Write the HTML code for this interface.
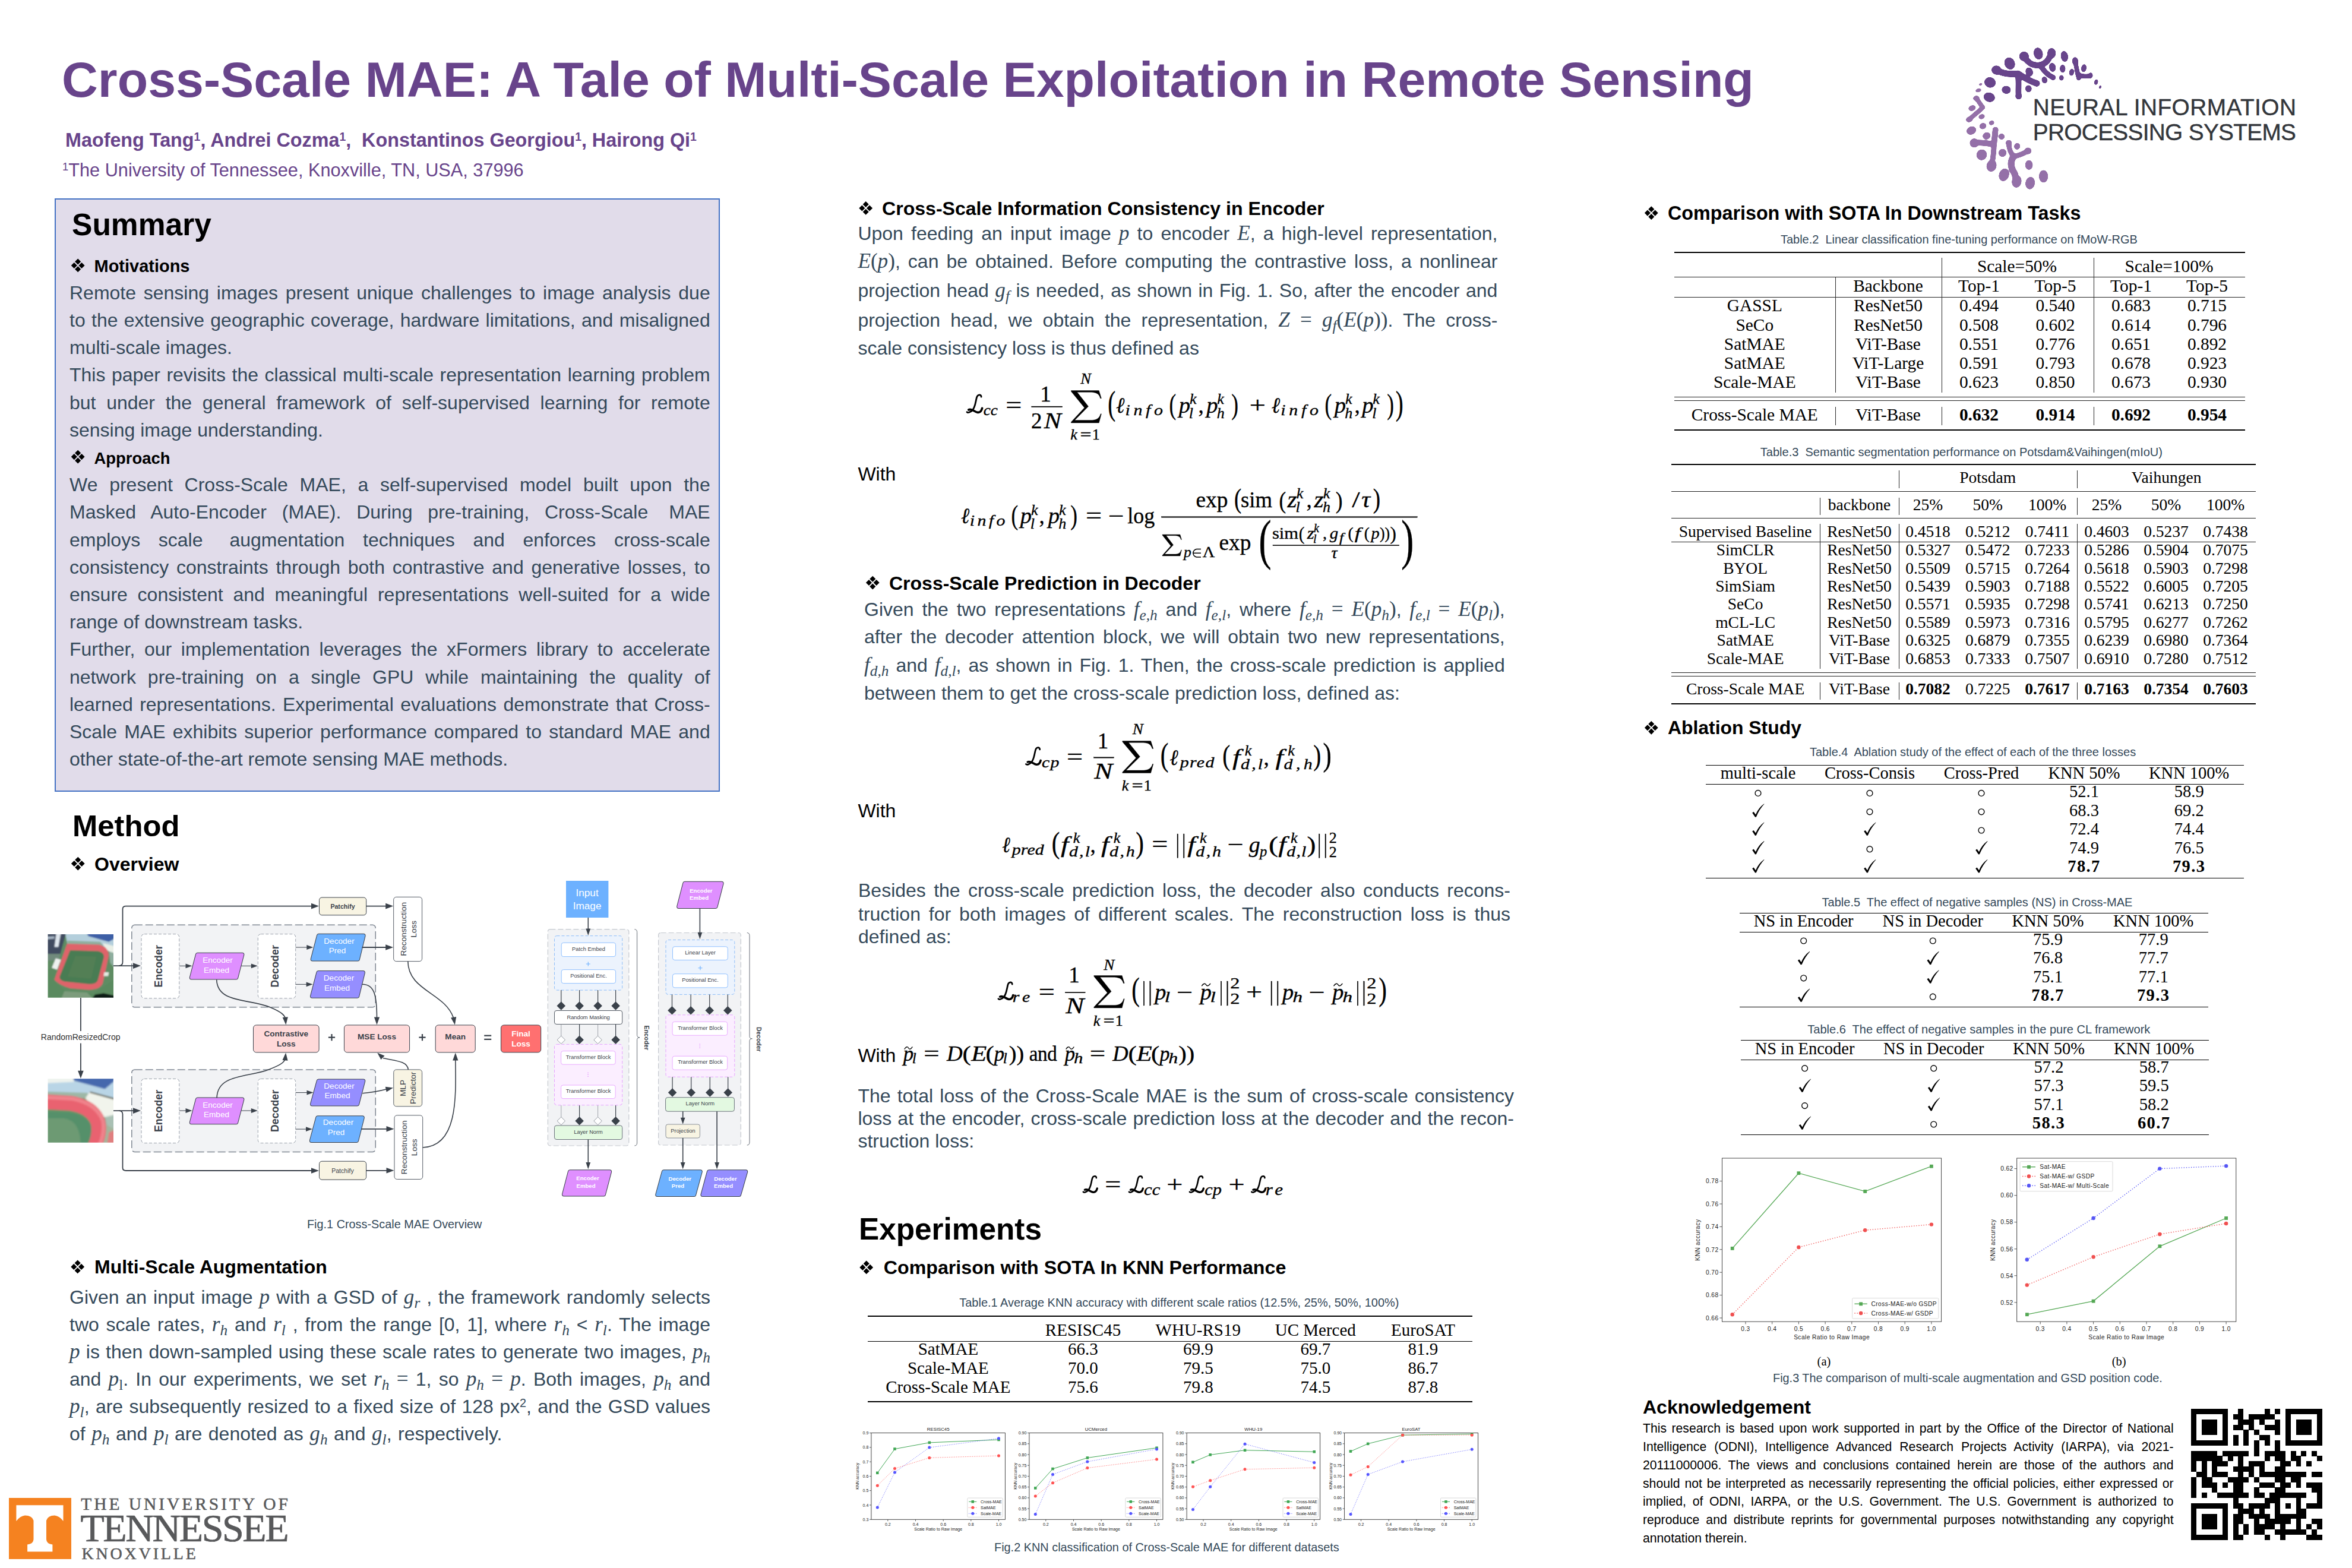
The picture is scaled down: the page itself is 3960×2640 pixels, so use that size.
<!DOCTYPE html><html><head><meta charset="utf-8"><title>Cross-Scale MAE poster</title><style>html,body{margin:0;padding:0;background:#fff}
#pg{position:relative;width:3960px;height:2640px;overflow:hidden;background:#fff;font-family:"Liberation Sans",sans-serif}
.t{position:absolute;white-space:pre;line-height:1}
.s{font-family:"Liberation Sans",sans-serif}.f{font-family:"Liberation Serif",serif}
i.m{font-family:"Liberation Serif",serif;font-style:italic;font-size:1.1em}
.mr{font-family:"Liberation Serif",serif;font-size:1.1em}
svg{position:absolute;overflow:visible}
</style></head><body><div id="pg">
<div style="position:absolute;left:92px;top:334px;width:1116px;height:995px;background:#e1dcea;border:2px solid #4472c4"></div>
<svg style="left:0;top:0" width="1" height="1"><path d="M131.2 435.5L136.2 440.6L131.2 445.6L126.1 440.6ZM137.5 441.9L142.6 446.9L137.5 452.0L132.5 446.9ZM131.2 448.2L136.2 453.3L131.2 458.3L126.1 453.3ZM124.8 441.9L129.9 446.9L124.8 452.0L119.8 446.9Z" fill="#000"/></svg>
<svg style="left:0;top:0" width="1" height="1"><path d="M131.2 757.7L136.2 762.8L131.2 767.8L126.1 762.8ZM137.5 764.1L142.6 769.1L137.5 774.2L132.5 769.1ZM131.2 770.4L136.2 775.5L131.2 780.5L126.1 775.5ZM124.8 764.1L129.9 769.1L124.8 774.2L119.8 769.1Z" fill="#000"/></svg>
<svg style="left:0;top:0" width="1" height="1"><path d="M131.3 1442.7L136.3 1447.8L131.3 1452.8L126.2 1447.8ZM137.6 1449.0L142.7 1454.1L137.6 1459.1L132.6 1454.1ZM131.3 1455.4L136.3 1460.4L131.3 1465.5L126.2 1460.4ZM124.9 1449.0L130.0 1454.1L124.9 1459.1L119.9 1454.1Z" fill="#000"/></svg>
<svg style="left:0;top:0" width="1" height="1"><path d="M130.7 2121.5L135.8 2126.6L130.7 2131.6L125.6 2126.6ZM137.0 2127.8L142.1 2132.9L137.0 2138.0L132.0 2132.9ZM130.7 2134.2L135.8 2139.2L130.7 2144.3L125.6 2139.2ZM124.3 2127.8L129.4 2132.9L124.3 2138.0L119.3 2132.9Z" fill="#000"/></svg>
<svg style="left:0;top:0" width="1" height="1"><path d="M1457.7 339.0L1462.8 344.1L1457.7 349.1L1452.7 344.1ZM1464.0 345.4L1469.1 350.4L1464.0 355.5L1459.0 350.4ZM1457.7 351.7L1462.8 356.8L1457.7 361.8L1452.7 356.8ZM1451.4 345.4L1456.4 350.4L1451.4 355.5L1446.3 350.4Z" fill="#000"/></svg>
<svg style="left:0;top:0" width="1" height="1"><path d="M1469.3 969.7L1474.3 974.8L1469.3 979.8L1464.2 974.8ZM1475.6 976.1L1480.7 981.1L1475.6 986.1L1470.6 981.1ZM1469.3 982.4L1474.3 987.5L1469.3 992.5L1464.2 987.5ZM1463.0 976.1L1468.0 981.1L1463.0 986.1L1457.9 981.1Z" fill="#000"/></svg>
<svg style="left:0;top:0" width="1" height="1"><path d="M1458.7 2122.5L1463.8 2127.6L1458.7 2132.6L1453.7 2127.6ZM1465.0 2128.8L1470.1 2133.9L1465.0 2139.0L1460.0 2133.9ZM1458.7 2135.2L1463.8 2140.2L1458.7 2145.3L1453.7 2140.2ZM1452.4 2128.8L1457.4 2133.9L1452.4 2139.0L1447.3 2133.9Z" fill="#000"/></svg>
<div style="position:absolute;left:1461.0px;top:2215.00px;width:1018.0px;height:2.2px;background:#000"></div>
<div style="position:absolute;left:1461.0px;top:2258.00px;width:1018.0px;height:1.3px;background:#000"></div>
<div style="position:absolute;left:1461.0px;top:2359.00px;width:1018.0px;height:2.2px;background:#000"></div>
<svg style="left:0;top:0" width="1" height="1"><path d="M2780.3 347.2L2785.3 352.2L2780.3 357.3L2775.2 352.2ZM2786.6 353.6L2791.7 358.6L2786.6 363.7L2781.6 358.6ZM2780.3 359.9L2785.3 365.0L2780.3 370.0L2775.2 365.0ZM2773.9 353.6L2779.0 358.6L2773.9 363.7L2768.9 358.6Z" fill="#000"/></svg>
<div style="position:absolute;left:2818.6px;top:424.00px;width:961.9px;height:2.2px;background:#000"></div>
<div style="position:absolute;left:2818.6px;top:466.00px;width:961.9px;height:1.35px;background:#222"></div>
<div style="position:absolute;left:2818.6px;top:500.00px;width:961.9px;height:1.35px;background:#222"></div>
<div style="position:absolute;left:2818.6px;top:668.00px;width:961.9px;height:1.35px;background:#222"></div>
<div style="position:absolute;left:2818.6px;top:674.00px;width:961.9px;height:1.35px;background:#222"></div>
<div style="position:absolute;left:2818.6px;top:723.00px;width:961.9px;height:2.2px;background:#000"></div>
<div style="position:absolute;left:3269.00px;top:434.0px;width:1.15px;height:33.0px;background:#2a2a2a"></div>
<div style="position:absolute;left:3525.00px;top:434.0px;width:1.15px;height:33.0px;background:#2a2a2a"></div>
<div style="position:absolute;left:3090.00px;top:467.0px;width:1.15px;height:194.0px;background:#2a2a2a"></div>
<div style="position:absolute;left:3090.00px;top:685.0px;width:1.15px;height:31.0px;background:#2a2a2a"></div>
<div style="position:absolute;left:3269.00px;top:467.0px;width:1.15px;height:194.0px;background:#2a2a2a"></div>
<div style="position:absolute;left:3269.00px;top:685.0px;width:1.15px;height:31.0px;background:#2a2a2a"></div>
<div style="position:absolute;left:3525.00px;top:467.0px;width:1.15px;height:194.0px;background:#2a2a2a"></div>
<div style="position:absolute;left:3525.00px;top:685.0px;width:1.15px;height:31.0px;background:#2a2a2a"></div>
<div style="position:absolute;left:2813.8px;top:781.00px;width:984.2px;height:2.2px;background:#000"></div>
<div style="position:absolute;left:2813.8px;top:827.00px;width:984.2px;height:1.35px;background:#222"></div>
<div style="position:absolute;left:2813.8px;top:872.00px;width:984.2px;height:1.35px;background:#222"></div>
<div style="position:absolute;left:2813.8px;top:912.00px;width:984.2px;height:1.35px;background:#222"></div>
<div style="position:absolute;left:2813.8px;top:1132.00px;width:984.2px;height:1.35px;background:#222"></div>
<div style="position:absolute;left:2813.8px;top:1138.00px;width:984.2px;height:1.35px;background:#222"></div>
<div style="position:absolute;left:2813.8px;top:1184.00px;width:984.2px;height:2.2px;background:#000"></div>
<div style="position:absolute;left:3197.00px;top:792.0px;width:1.15px;height:30.0px;background:#2a2a2a"></div>
<div style="position:absolute;left:3497.00px;top:792.0px;width:1.15px;height:30.0px;background:#2a2a2a"></div>
<div style="position:absolute;left:3064.00px;top:838.0px;width:1.15px;height:29.0px;background:#2a2a2a"></div>
<div style="position:absolute;left:3064.00px;top:882.0px;width:1.15px;height:244.0px;background:#2a2a2a"></div>
<div style="position:absolute;left:3064.00px;top:1149.0px;width:1.15px;height:29.0px;background:#2a2a2a"></div>
<div style="position:absolute;left:3197.00px;top:838.0px;width:1.15px;height:29.0px;background:#2a2a2a"></div>
<div style="position:absolute;left:3197.00px;top:882.0px;width:1.15px;height:244.0px;background:#2a2a2a"></div>
<div style="position:absolute;left:3197.00px;top:1149.0px;width:1.15px;height:29.0px;background:#2a2a2a"></div>
<div style="position:absolute;left:3497.00px;top:838.0px;width:1.15px;height:29.0px;background:#2a2a2a"></div>
<div style="position:absolute;left:3497.00px;top:882.0px;width:1.15px;height:244.0px;background:#2a2a2a"></div>
<div style="position:absolute;left:3497.00px;top:1149.0px;width:1.15px;height:29.0px;background:#2a2a2a"></div>
<svg style="left:0;top:0" width="1" height="1"><path d="M2780.3 1213.9L2785.3 1219.0L2780.3 1224.0L2775.2 1219.0ZM2786.6 1220.2L2791.7 1225.3L2786.6 1230.3L2781.6 1225.3ZM2780.3 1226.6L2785.3 1231.6L2780.3 1236.7L2775.2 1231.6ZM2773.9 1220.2L2779.0 1225.3L2773.9 1230.3L2768.9 1225.3Z" fill="#000"/></svg>
<div style="position:absolute;left:2872.4px;top:1288.00px;width:905.6px;height:1.25px;background:#000"></div>
<div style="position:absolute;left:2872.4px;top:1320.00px;width:905.6px;height:1.25px;background:#000"></div>
<div style="position:absolute;left:2872.4px;top:1478.00px;width:905.6px;height:1.25px;background:#000"></div>
<svg style="left:0;top:0" width="1" height="1"><circle cx="2960.0" cy="1335.4" r="4.9" fill="none" stroke="#000" stroke-width="1.35"/></svg>
<svg style="left:0;top:0" width="1" height="1"><circle cx="3148.0" cy="1335.4" r="4.9" fill="none" stroke="#000" stroke-width="1.35"/></svg>
<svg style="left:0;top:0" width="1" height="1"><circle cx="3336.0" cy="1335.4" r="4.9" fill="none" stroke="#000" stroke-width="1.35"/></svg>
<svg style="left:0;top:0" width="1" height="1"><path d="M2950.2 1368.4L2952.6 1366.7L2956.0 1371.4Q2960.5 1360.3 2970.1 1353.2L2970.4 1353.8Q2962.0 1362.8 2956.9 1375.4L2955.1 1375.7Z" fill="#000"/></svg>
<svg style="left:0;top:0" width="1" height="1"><circle cx="3148.0" cy="1366.8" r="4.9" fill="none" stroke="#000" stroke-width="1.35"/></svg>
<svg style="left:0;top:0" width="1" height="1"><circle cx="3336.0" cy="1366.8" r="4.9" fill="none" stroke="#000" stroke-width="1.35"/></svg>
<svg style="left:0;top:0" width="1" height="1"><path d="M2950.2 1399.6L2952.6 1397.9L2956.0 1402.6Q2960.5 1391.5 2970.1 1384.4L2970.4 1385.0Q2962.0 1394.0 2956.9 1406.6L2955.1 1406.9Z" fill="#000"/></svg>
<svg style="left:0;top:0" width="1" height="1"><path d="M3138.2 1399.6L3140.6 1397.9L3144.0 1402.6Q3148.5 1391.5 3158.1 1384.4L3158.4 1385.0Q3150.0 1394.0 3144.9 1406.6L3143.1 1406.9Z" fill="#000"/></svg>
<svg style="left:0;top:0" width="1" height="1"><circle cx="3336.0" cy="1398.0" r="4.9" fill="none" stroke="#000" stroke-width="1.35"/></svg>
<svg style="left:0;top:0" width="1" height="1"><path d="M2950.2 1431.3L2952.6 1429.6L2956.0 1434.3Q2960.5 1423.2 2970.1 1416.1L2970.4 1416.7Q2962.0 1425.7 2956.9 1438.3L2955.1 1438.6Z" fill="#000"/></svg>
<svg style="left:0;top:0" width="1" height="1"><circle cx="3148.0" cy="1429.7" r="4.9" fill="none" stroke="#000" stroke-width="1.35"/></svg>
<svg style="left:0;top:0" width="1" height="1"><path d="M3326.2 1431.3L3328.6 1429.6L3332.0 1434.3Q3336.5 1423.2 3346.1 1416.1L3346.4 1416.7Q3338.0 1425.7 3332.9 1438.3L3331.1 1438.6Z" fill="#000"/></svg>
<svg style="left:0;top:0" width="1" height="1"><path d="M2950.2 1462.2L2952.6 1460.5L2956.0 1465.2Q2960.5 1454.1 2970.1 1447.0L2970.4 1447.6Q2962.0 1456.6 2956.9 1469.2L2955.1 1469.5Z" fill="#000"/></svg>
<svg style="left:0;top:0" width="1" height="1"><path d="M3138.2 1462.2L3140.6 1460.5L3144.0 1465.2Q3148.5 1454.1 3158.1 1447.0L3158.4 1447.6Q3150.0 1456.6 3144.9 1469.2L3143.1 1469.5Z" fill="#000"/></svg>
<svg style="left:0;top:0" width="1" height="1"><path d="M3326.2 1462.2L3328.6 1460.5L3332.0 1465.2Q3336.5 1454.1 3346.1 1447.0L3346.4 1447.6Q3338.0 1456.6 3332.9 1469.2L3331.1 1469.5Z" fill="#000"/></svg>
<div style="position:absolute;left:2929.0px;top:1537.00px;width:788.6px;height:1.25px;background:#000"></div>
<div style="position:absolute;left:2929.0px;top:1569.00px;width:788.6px;height:1.25px;background:#000"></div>
<div style="position:absolute;left:2929.0px;top:1695.00px;width:788.6px;height:1.25px;background:#000"></div>
<svg style="left:0;top:0" width="1" height="1"><circle cx="3036.7" cy="1584.0" r="4.9" fill="none" stroke="#000" stroke-width="1.35"/></svg>
<svg style="left:0;top:0" width="1" height="1"><circle cx="3254.3" cy="1584.0" r="4.9" fill="none" stroke="#000" stroke-width="1.35"/></svg>
<svg style="left:0;top:0" width="1" height="1"><path d="M3026.9 1617.0L3029.3 1615.3L3032.7 1620.0Q3037.2 1608.9 3046.8 1601.8L3047.1 1602.4Q3038.7 1611.4 3033.6 1624.0L3031.8 1624.3Z" fill="#000"/></svg>
<svg style="left:0;top:0" width="1" height="1"><path d="M3244.5 1617.0L3246.9 1615.3L3250.3 1620.0Q3254.8 1608.9 3264.4 1601.8L3264.7 1602.4Q3256.3 1611.4 3251.2 1624.0L3249.4 1624.3Z" fill="#000"/></svg>
<svg style="left:0;top:0" width="1" height="1"><circle cx="3036.7" cy="1646.8" r="4.9" fill="none" stroke="#000" stroke-width="1.35"/></svg>
<svg style="left:0;top:0" width="1" height="1"><path d="M3244.5 1648.4L3246.9 1646.7L3250.3 1651.4Q3254.8 1640.3 3264.4 1633.2L3264.7 1633.8Q3256.3 1642.8 3251.2 1655.4L3249.4 1655.7Z" fill="#000"/></svg>
<svg style="left:0;top:0" width="1" height="1"><path d="M3026.9 1679.8L3029.3 1678.1L3032.7 1682.8Q3037.2 1671.7 3046.8 1664.6L3047.1 1665.2Q3038.7 1674.2 3033.6 1686.8L3031.8 1687.1Z" fill="#000"/></svg>
<svg style="left:0;top:0" width="1" height="1"><circle cx="3254.3" cy="1678.2" r="4.9" fill="none" stroke="#000" stroke-width="1.35"/></svg>
<div style="position:absolute;left:2930.5px;top:1751.00px;width:788.1px;height:1.25px;background:#000"></div>
<div style="position:absolute;left:2930.5px;top:1784.00px;width:788.1px;height:1.25px;background:#000"></div>
<div style="position:absolute;left:2930.5px;top:1910.00px;width:788.1px;height:1.25px;background:#000"></div>
<svg style="left:0;top:0" width="1" height="1"><circle cx="3038.6" cy="1798.7" r="4.9" fill="none" stroke="#000" stroke-width="1.35"/></svg>
<svg style="left:0;top:0" width="1" height="1"><circle cx="3255.7" cy="1798.7" r="4.9" fill="none" stroke="#000" stroke-width="1.35"/></svg>
<svg style="left:0;top:0" width="1" height="1"><path d="M3028.8 1831.6L3031.2 1829.9L3034.6 1834.6Q3039.1 1823.5 3048.7 1816.4L3049.0 1817.0Q3040.6 1826.0 3035.5 1838.6L3033.7 1838.9Z" fill="#000"/></svg>
<svg style="left:0;top:0" width="1" height="1"><path d="M3245.9 1831.6L3248.3 1829.9L3251.7 1834.6Q3256.2 1823.5 3265.8 1816.4L3266.1 1817.0Q3257.7 1826.0 3252.6 1838.6L3250.8 1838.9Z" fill="#000"/></svg>
<svg style="left:0;top:0" width="1" height="1"><circle cx="3038.6" cy="1861.6" r="4.9" fill="none" stroke="#000" stroke-width="1.35"/></svg>
<svg style="left:0;top:0" width="1" height="1"><path d="M3245.9 1863.2L3248.3 1861.5L3251.7 1866.2Q3256.2 1855.1 3265.8 1848.0L3266.1 1848.6Q3257.7 1857.6 3252.6 1870.2L3250.8 1870.5Z" fill="#000"/></svg>
<svg style="left:0;top:0" width="1" height="1"><path d="M3028.8 1894.6L3031.2 1892.9L3034.6 1897.6Q3039.1 1886.5 3048.7 1879.4L3049.0 1880.0Q3040.6 1889.0 3035.5 1901.6L3033.7 1901.9Z" fill="#000"/></svg>
<svg style="left:0;top:0" width="1" height="1"><circle cx="3255.7" cy="1893.0" r="4.9" fill="none" stroke="#000" stroke-width="1.35"/></svg>
<svg style="left:0;top:0" width="1" height="1" font-family="'Liberation Serif',serif" fill="#000" stroke="#000" stroke-width="0.35"><path d="M1652.1 668.2C1652.3 663.8 1646.2 663.2 1644.4 669.4C1642.2 677.6 1642.0 686.3 1636.8 691.1C1633.5 694.1 1629.4 695.7 1628.0 693.7" fill="none" stroke="#000" stroke-width="2.83" stroke-linecap="round"/><path d="M1630.8 690.0C1636.3 687.2 1640.6 693.7 1646.1 694.3C1650.1 694.8 1652.5 691.7 1653.6 687.4" fill="none" stroke="#000" stroke-width="3.70" stroke-linecap="round"/><text transform="translate(1655.66 699.0) scale(1.045 1)" font-size="26" font-style="italic" letter-spacing="0.00">cc</text><text transform="translate(1693.21 694.5) scale(1.300 1)" font-size="37">=</text><text x="1751.2" y="676.3" font-size="37">1</text><rect x="1736.7" y="684.05" width="52.1" height="1.5"/><text x="1735.9" y="720.5" font-size="37">2</text><text transform="translate(1757.82 720.5) scale(1.181 1)" font-size="37" font-style="italic">N</text><path d="M1803.4 657.6L1850.3 657.6L1854.4 670.7L1852.6 670.7C1850.3 662.5 1845.7 660.3 1834.0 660.3L1813.6 660.3L1832.5 684.3L1809.5 707.6L1835.0 707.6C1846.8 707.6 1850.8 704.4 1853.1 696.8L1854.4 696.8L1850.3 712.0L1803.4 712.0L1803.4 710.6L1825.8 686.4L1803.4 659.0Z"/><text transform="translate(1819.19 645.7) scale(1.014 1)" font-size="26" font-style="italic">N</text><text x="1802.3" y="740.0" font-size="26" font-style="italic">k</text><text transform="translate(1818.45 740.0) scale(1.300 1)" font-size="26">=</text><text x="1838.7" y="740.0" font-size="26">1</text><text transform="translate(1865.29 698.0) scale(0.692 1)" font-size="56.2">(</text><text transform="translate(1878.89 695.0) scale(0.933 1)" font-size="37" font-style="italic">ℓ</text><text transform="translate(1894.44 699.0) scale(1.150 1)" font-size="26" font-style="italic" letter-spacing="4.94">info</text><text transform="translate(1968.46 696.7) scale(0.722 1)" font-size="48.5">(</text><text transform="translate(1984.86 695.0) scale(1.044 1)" font-size="37" font-style="italic">p</text><text x="2002.9" y="680.4" font-size="26" font-style="italic">k</text><text x="2001.8" y="703.5" font-size="26" font-style="italic">l</text><text x="2017.6" y="695.0" font-size="37">,</text><text transform="translate(2031.26 695.0) scale(1.044 1)" font-size="37" font-style="italic">p</text><text x="2049.3" y="680.4" font-size="26" font-style="italic">k</text><text x="2048.7" y="703.5" font-size="26" font-style="italic">h</text><text transform="translate(2073.37 696.7) scale(0.722 1)" font-size="48.5">)</text><text transform="translate(2103.81 694.5) scale(1.300 1)" font-size="37">+</text><text transform="translate(2140.79 695.0) scale(0.933 1)" font-size="37" font-style="italic">ℓ</text><text transform="translate(2156.34 699.0) scale(1.150 1)" font-size="26" font-style="italic" letter-spacing="4.94">info</text><text transform="translate(2230.46 696.7) scale(0.722 1)" font-size="48.5">(</text><text transform="translate(2246.86 695.0) scale(1.044 1)" font-size="37" font-style="italic">p</text><text x="2264.9" y="680.4" font-size="26" font-style="italic">k</text><text x="2264.3" y="703.5" font-size="26" font-style="italic">h</text><text x="2280.6" y="695.0" font-size="37">,</text><text transform="translate(2293.26 695.0) scale(1.044 1)" font-size="37" font-style="italic">p</text><text x="2311.3" y="680.4" font-size="26" font-style="italic">k</text><text x="2310.2" y="703.5" font-size="26" font-style="italic">l</text><text transform="translate(2335.27 696.7) scale(0.722 1)" font-size="48.5">)</text><text transform="translate(2349.75 698.0) scale(0.692 1)" font-size="56.2">)</text></svg>
<svg style="left:0;top:0" width="1" height="1" font-family="'Liberation Serif',serif" fill="#000" stroke="#000" stroke-width="0.35"><text transform="translate(1618.00 881.4) scale(0.919 1)" font-size="37" font-style="italic">ℓ</text><text transform="translate(1632.84 885.4) scale(1.150 1)" font-size="26" font-style="italic" letter-spacing="3.78">info</text><text transform="translate(1702.46 882.9) scale(0.739 1)" font-size="47.4">(</text><text transform="translate(1717.86 881.4) scale(1.044 1)" font-size="37" font-style="italic">p</text><text x="1735.9" y="866.8" font-size="26" font-style="italic">k</text><text x="1734.8" y="889.9" font-size="26" font-style="italic">l</text><text x="1749.6" y="881.4" font-size="37">,</text><text transform="translate(1764.86 881.4) scale(1.044 1)" font-size="37" font-style="italic">p</text><text x="1782.9" y="866.8" font-size="26" font-style="italic">k</text><text x="1782.3" y="889.9" font-size="26" font-style="italic">h</text><text transform="translate(1802.27 882.9) scale(0.739 1)" font-size="47.4">)</text><text transform="translate(1827.91 880.9) scale(1.300 1)" font-size="37">=</text><text transform="translate(1865.65 880.9) scale(1.278 1)" font-size="37">−</text><text transform="translate(1898.28 881.4) scale(0.971 1)" font-size="37" letter-spacing="0.00">log</text><rect x="1955.4" y="869.75" width="431.0" height="1.5"/><text transform="translate(2013.54 853.5) scale(1.009 1)" font-size="37" letter-spacing="0.00">exp</text><text transform="translate(2077.99 855.1) scale(0.790 1)" font-size="46.3">(</text><text transform="translate(2088.99 853.5) scale(0.993 1)" font-size="37" letter-spacing="0.00">sim</text><text transform="translate(2153.46 855.5) scale(0.883 1)" font-size="39.7">(</text><text transform="translate(2167.46 853.5) scale(1.117 1)" font-size="37" font-style="italic">z</text><text x="2182.8" y="838.9" font-size="26" font-style="italic">k</text><text x="2181.6" y="862.0" font-size="26" font-style="italic">l</text><text x="2199.6" y="853.5" font-size="37">,</text><text transform="translate(2212.46 853.5) scale(1.117 1)" font-size="37" font-style="italic">z</text><text x="2227.8" y="838.9" font-size="26" font-style="italic">k</text><text x="2227.1" y="862.0" font-size="26" font-style="italic">h</text><text transform="translate(2248.87 855.5) scale(0.883 1)" font-size="39.7">)</text><text transform="translate(2276.32 853.5) scale(1.300 1)" font-size="37">/</text><text transform="translate(2292.25 853.5) scale(1.120 1)" font-size="37" font-style="italic">τ</text><text transform="translate(2311.81 855.1) scale(0.799 1)" font-size="46.3">)</text><path d="M1957.0 900.0L1986.9 900.0L1989.5 908.6L1988.4 908.6C1986.9 903.2 1984.0 901.8 1976.5 901.8L1963.5 901.8L1975.5 917.6L1960.9 933.1L1977.2 933.1C1984.6 933.1 1987.2 931.0 1988.7 925.9L1989.5 925.9L1986.9 936.0L1957.0 936.0L1957.0 935.1L1971.3 919.1L1957.0 900.9Z"/><text transform="translate(1993.00 937.6) scale(0.983 1)" font-size="26" font-style="italic">p</text><path d="M2022.0 924.5L2014.8 924.5A6.8 6.8 0 0 0 2014.8 938.0L2022.0 938.0M2008.0 931.2L2022.0 931.2" fill="none" stroke="#000" stroke-width="1.4"/><text transform="translate(2024.72 937.6) scale(1.091 1)" font-size="26">Λ</text><text transform="translate(2052.54 925.6) scale(1.009 1)" font-size="37" letter-spacing="0.00">exp</text><text transform="translate(2119.18 939.7) scale(0.685 1)" font-size="93.8">(</text><text transform="translate(2141.94 907.0) scale(1.093 1)" font-size="28" letter-spacing="0.00">sim</text><text transform="translate(2186.72 909.2) scale(0.913 1)" font-size="32.0">(</text><text transform="translate(2200.65 907.0) scale(1.098 1)" font-size="28" font-style="italic">z</text><text x="2212.0" y="896.0" font-size="20" font-style="italic">k</text><text x="2211.1" y="914.0" font-size="20" font-style="italic">l</text><text x="2226.9" y="907.0" font-size="28">,</text><text transform="translate(2238.79 907.0) scale(1.033 1)" font-size="28" font-style="italic">g</text><text transform="translate(2254.99 912.0) scale(1.300 1)" font-size="20" font-style="italic">f</text><text transform="translate(2269.49 907.0) scale(0.987 1)" font-size="28">(</text><text transform="translate(2280.74 907.0) scale(1.300 1)" font-size="28" font-style="italic">f</text><text transform="translate(2296.80 907.0) scale(0.973 1)" font-size="28">(</text><text transform="translate(2308.46 907.0) scale(1.014 1)" font-size="28" font-style="italic">p</text><text transform="translate(2322.97 907.0) scale(0.920 1)" font-size="28" letter-spacing="0.00">))</text><text transform="translate(2340.50 909.2) scale(0.974 1)" font-size="32.0">)</text><rect x="2143.0" y="917.55" width="212.8" height="1.3"/><text x="2241.4" y="940.0" font-size="28" font-style="italic">τ</text><text transform="translate(2358.93 939.7) scale(0.685 1)" font-size="93.8">)</text></svg>
<svg style="left:0;top:0" width="1" height="1" font-family="'Liberation Serif',serif" fill="#000" stroke="#000" stroke-width="0.35"><path d="M1750.7 1261.9C1750.9 1257.7 1745.0 1257.0 1743.4 1263.0C1741.2 1270.9 1741.0 1279.4 1736.0 1284.0C1732.8 1287.0 1728.8 1288.4 1727.4 1286.5" fill="none" stroke="#000" stroke-width="2.74" stroke-linecap="round"/><path d="M1730.2 1283.0C1735.5 1280.2 1739.7 1286.5 1744.9 1287.2C1748.8 1287.6 1751.2 1284.6 1752.2 1280.4" fill="none" stroke="#000" stroke-width="3.58" stroke-linecap="round"/><text transform="translate(1754.08 1291.6) scale(1.150 1)" font-size="26" font-style="italic" letter-spacing="0.96">cp</text><text transform="translate(1796.11 1287.3) scale(1.300 1)" font-size="37">=</text><text x="1847.7" y="1259.5" font-size="37">1</text><rect x="1841.5" y="1274.75" width="34.0" height="1.5"/><text transform="translate(1842.34 1310.5) scale(1.256 1)" font-size="37" font-style="italic">N</text><path d="M1889.8 1247.6L1937.6 1247.6L1941.8 1260.5L1940.0 1260.5C1937.6 1252.4 1933.0 1250.3 1921.0 1250.3L1900.2 1250.3L1919.4 1274.0L1896.0 1297.1L1922.0 1297.1C1934.0 1297.1 1938.2 1293.9 1940.5 1286.3L1941.8 1286.3L1937.6 1301.4L1889.8 1301.4L1889.8 1300.1L1912.7 1276.1L1889.8 1248.9Z"/><text transform="translate(1906.70 1235.7) scale(1.041 1)" font-size="26" font-style="italic">N</text><text x="1888.8" y="1331.0" font-size="26" font-style="italic">k</text><text transform="translate(1905.45 1331.0) scale(1.300 1)" font-size="26">=</text><text x="1925.7" y="1331.0" font-size="26">1</text><text transform="translate(1953.70 1289.3) scale(0.742 1)" font-size="55.1">(</text><text transform="translate(1969.29 1287.8) scale(0.933 1)" font-size="37" font-style="italic">ℓ</text><text transform="translate(1986.75 1291.6) scale(1.150 1)" font-size="26" font-style="italic" letter-spacing="1.15">pred</text><text transform="translate(2058.29 1288.4) scale(0.785 1)" font-size="49.6">(</text><text transform="translate(2075.03 1287.8) scale(1.300 1)" font-size="37" font-style="italic">f</text><text x="2095.8" y="1272.3" font-size="26" font-style="italic">k</text><text transform="translate(2089.09 1295.3) scale(1.150 1)" font-size="26" font-style="italic" letter-spacing="2.75">d,l</text><text x="2127.6" y="1287.8" font-size="37">,</text><text transform="translate(2147.53 1287.8) scale(1.300 1)" font-size="37" font-style="italic">f</text><text x="2168.3" y="1272.3" font-size="26" font-style="italic">k</text><text transform="translate(2161.59 1295.3) scale(1.150 1)" font-size="26" font-style="italic" letter-spacing="4.68">d,h</text><text transform="translate(2211.25 1288.4) scale(0.785 1)" font-size="49.6">)</text><text transform="translate(2227.62 1289.3) scale(0.777 1)" font-size="55.1">)</text></svg>
<svg style="left:0;top:0" width="1" height="1" font-family="'Liberation Serif',serif" fill="#000" stroke="#000" stroke-width="0.35"><text transform="translate(1687.13 1434.7) scale(0.878 1)" font-size="37" font-style="italic">ℓ</text><text transform="translate(1703.75 1438.5) scale(1.150 1)" font-size="26" font-style="italic" letter-spacing="0.11">pred</text><text transform="translate(1770.70 1436.4) scale(0.824 1)" font-size="49.6">(</text><text transform="translate(1785.93 1434.7) scale(1.300 1)" font-size="37" font-style="italic">f</text><text x="1806.7" y="1419.2" font-size="26" font-style="italic">k</text><text transform="translate(1799.99 1442.2) scale(1.150 1)" font-size="26" font-style="italic" letter-spacing="1.88">d,l</text><text x="1835.6" y="1434.7" font-size="37">,</text><text transform="translate(1853.93 1434.7) scale(1.300 1)" font-size="37" font-style="italic">f</text><text x="1874.7" y="1419.2" font-size="26" font-style="italic">k</text><text transform="translate(1867.99 1442.2) scale(1.150 1)" font-size="26" font-style="italic" letter-spacing="2.29">d,h</text><text transform="translate(1912.18 1436.4) scale(0.824 1)" font-size="49.6">)</text><text transform="translate(1939.21 1434.2) scale(1.300 1)" font-size="37">=</text><rect x="1982.00" y="1404.0" width="1.5" height="40.5"/><rect x="1992.50" y="1404.0" width="1.5" height="40.5"/><text transform="translate(1999.23 1434.7) scale(1.300 1)" font-size="37" font-style="italic">f</text><text x="2020.0" y="1419.2" font-size="26" font-style="italic">k</text><text transform="translate(2013.29 1442.2) scale(1.150 1)" font-size="26" font-style="italic" letter-spacing="2.29">d,h</text><text transform="translate(2066.51 1434.2) scale(1.300 1)" font-size="37">−</text><text transform="translate(2102.68 1434.7) scale(1.023 1)" font-size="37" font-style="italic">g</text><text transform="translate(2120.94 1442.2) scale(0.946 1)" font-size="26" font-style="italic">p</text><text transform="translate(2135.96 1434.7) scale(1.300 1)" font-size="37">(</text><text transform="translate(2152.23 1434.7) scale(1.300 1)" font-size="37" font-style="italic">f</text><text x="2173.0" y="1419.2" font-size="26" font-style="italic">k</text><text transform="translate(2166.29 1442.2) scale(1.150 1)" font-size="26" font-style="italic" letter-spacing="1.01">d,l</text><text transform="translate(2200.56 1434.7) scale(1.210 1)" font-size="37">)</text><rect x="2220.50" y="1404.0" width="1.5" height="40.5"/><rect x="2231.00" y="1404.0" width="1.5" height="40.5"/><text x="2237.7" y="1418.7" font-size="26">2</text><text x="2237.7" y="1443.2" font-size="26">2</text></svg>
<svg style="left:0;top:0" width="1" height="1" font-family="'Liberation Serif',serif" fill="#000" stroke="#000" stroke-width="0.35"><path d="M1704.2 1657.1C1704.4 1652.9 1698.5 1652.2 1696.9 1658.2C1694.8 1666.1 1694.5 1674.6 1689.5 1679.2C1686.3 1682.2 1682.3 1683.6 1680.9 1681.7" fill="none" stroke="#000" stroke-width="2.74" stroke-linecap="round"/><path d="M1683.7 1678.2C1689.0 1675.4 1693.2 1681.7 1698.4 1682.4C1702.3 1682.8 1704.7 1679.8 1705.7 1675.6" fill="none" stroke="#000" stroke-width="3.58" stroke-linecap="round"/><text transform="translate(1704.79 1686.5) scale(1.150 1)" font-size="26" font-style="italic" letter-spacing="4.85">re</text><text transform="translate(1748.66 1682.5) scale(1.300 1)" font-size="37">=</text><text x="1799.2" y="1654.4" font-size="37">1</text><rect x="1793.3" y="1670.25" width="34.0" height="1.5"/><text transform="translate(1794.34 1706.3) scale(1.256 1)" font-size="37" font-style="italic">N</text><path d="M1841.8 1642.5L1889.1 1642.5L1893.2 1655.6L1891.4 1655.6C1889.1 1647.4 1884.5 1645.2 1872.6 1645.2L1852.1 1645.2L1871.1 1669.2L1848.0 1692.6L1873.7 1692.6C1885.5 1692.6 1889.6 1689.4 1891.9 1681.7L1893.2 1681.7L1889.1 1697.0L1841.8 1697.0L1841.8 1695.6L1864.4 1671.4L1841.8 1643.9Z"/><text transform="translate(1858.20 1633.0) scale(1.041 1)" font-size="26" font-style="italic">N</text><text x="1840.8" y="1726.7" font-size="26" font-style="italic">k</text><text transform="translate(1857.45 1726.7) scale(1.300 1)" font-size="26">=</text><text x="1877.7" y="1726.7" font-size="26">1</text><text transform="translate(1905.20 1684.3) scale(0.742 1)" font-size="55.1">(</text><rect x="1925.30" y="1652.0" width="1.5" height="41.0"/><rect x="1935.80" y="1652.0" width="1.5" height="41.0"/><text transform="translate(1944.25 1683.0) scale(1.038 1)" font-size="37" font-style="italic">p</text><text transform="translate(1960.78 1687.0) scale(1.300 1)" font-size="26" font-style="italic">l</text><text transform="translate(1981.11 1682.5) scale(1.300 1)" font-size="37">−</text><text transform="translate(2020.85 1683.0) scale(1.038 1)" font-size="37" font-style="italic">p</text><path d="M2023.6 1659.6C2026.4 1655.4 2029.2 1655.4 2030.6 1658.0C2032.0 1660.6 2034.8 1660.6 2037.6 1656.4" fill="none" stroke="#000" stroke-width="1.5" stroke-linecap="round"/><text transform="translate(2037.38 1687.0) scale(1.300 1)" font-size="26" font-style="italic">l</text><rect x="2055.30" y="1652.0" width="1.5" height="41.0"/><rect x="2065.80" y="1652.0" width="1.5" height="41.0"/><text transform="translate(2071.37 1664.0) scale(1.247 1)" font-size="26">2</text><text transform="translate(2071.37 1690.0) scale(1.247 1)" font-size="26">2</text><text transform="translate(2097.96 1682.5) scale(1.300 1)" font-size="37">+</text><rect x="2140.00" y="1652.0" width="1.5" height="41.0"/><rect x="2150.50" y="1652.0" width="1.5" height="41.0"/><text transform="translate(2158.95 1683.0) scale(1.038 1)" font-size="37" font-style="italic">p</text><text transform="translate(2176.14 1687.0) scale(1.300 1)" font-size="26" font-style="italic">h</text><text transform="translate(2203.41 1682.5) scale(1.300 1)" font-size="37">−</text><text transform="translate(2243.15 1683.0) scale(1.038 1)" font-size="37" font-style="italic">p</text><path d="M2245.9 1659.6C2248.7 1655.4 2251.5 1655.4 2252.9 1658.0C2254.3 1660.6 2257.1 1660.6 2259.9 1656.4" fill="none" stroke="#000" stroke-width="1.5" stroke-linecap="round"/><text transform="translate(2260.34 1687.0) scale(1.300 1)" font-size="26" font-style="italic">h</text><rect x="2285.20" y="1652.0" width="1.5" height="41.0"/><rect x="2295.70" y="1652.0" width="1.5" height="41.0"/><text transform="translate(2301.27 1664.0) scale(1.247 1)" font-size="26">2</text><text transform="translate(2301.27 1690.0) scale(1.247 1)" font-size="26">2</text><text transform="translate(2321.18 1684.3) scale(0.742 1)" font-size="55.1">)</text></svg>
<svg style="left:0;top:0" width="1" height="1" font-family="'Liberation Serif',serif" fill="#000" stroke="#000" stroke-width="0.35"><text transform="translate(1520.64 1786.2) scale(0.967 1)" font-size="36" font-style="italic">p</text><path d="M1523.0 1766.1C1525.6 1761.9 1528.2 1761.9 1529.5 1764.5C1530.8 1767.1 1533.4 1767.1 1536.0 1762.9" fill="none" stroke="#000" stroke-width="1.3" stroke-linecap="round"/><text x="1535.7" y="1790.2" font-size="25" font-style="italic">l</text><text transform="translate(1555.13 1785.7) scale(1.300 1)" font-size="36">=</text><text transform="translate(1593.91 1786.2) scale(1.025 1)" font-size="36" font-style="italic">D</text><text transform="translate(1620.62 1786.2) scale(1.190 1)" font-size="36">(</text><text transform="translate(1635.20 1786.2) scale(1.182 1)" font-size="36" font-style="italic">E</text><text transform="translate(1659.62 1786.2) scale(1.190 1)" font-size="36">(</text><text transform="translate(1673.73 1786.2) scale(0.962 1)" font-size="36" font-style="italic">p</text><text x="1688.7" y="1790.2" font-size="25" font-style="italic">l</text><text transform="translate(1698.77 1786.2) scale(1.060 1)" font-size="36" letter-spacing="0.00">))</text><text transform="translate(1732.64 1786.2) scale(0.920 1)" font-size="36" letter-spacing="-0.41">and</text><text transform="translate(1792.73 1786.2) scale(0.962 1)" font-size="36" font-style="italic">p</text><path d="M1795.0 1766.1C1797.6 1761.9 1800.2 1761.9 1801.5 1764.5C1802.8 1767.1 1805.4 1767.1 1808.0 1762.9" fill="none" stroke="#000" stroke-width="1.3" stroke-linecap="round"/><text transform="translate(1807.89 1790.2) scale(1.231 1)" font-size="25" font-style="italic">h</text><text transform="translate(1834.68 1785.7) scale(1.300 1)" font-size="36">=</text><text transform="translate(1873.21 1786.2) scale(1.013 1)" font-size="36" font-style="italic">D</text><text transform="translate(1899.62 1786.2) scale(1.190 1)" font-size="36">(</text><text transform="translate(1913.50 1786.2) scale(1.191 1)" font-size="36" font-style="italic">E</text><text transform="translate(1938.12 1786.2) scale(1.190 1)" font-size="36">(</text><text transform="translate(1952.59 1786.2) scale(0.941 1)" font-size="36" font-style="italic">p</text><text transform="translate(1967.35 1790.2) scale(1.279 1)" font-size="25" font-style="italic">h</text><text transform="translate(1984.19 1786.2) scale(1.130 1)" font-size="36" letter-spacing="0.00">))</text></svg>
<svg style="left:0;top:0" width="1" height="1" font-family="'Liberation Serif',serif" fill="#000" stroke="#000" stroke-width="0.35"><path d="M1845.9 1983.3C1846.1 1979.3 1840.5 1978.7 1838.9 1984.4C1836.9 1991.9 1836.7 1999.9 1831.9 2004.3C1828.9 2007.1 1825.1 2008.5 1823.8 2006.7" fill="none" stroke="#000" stroke-width="2.60" stroke-linecap="round"/><path d="M1826.4 2003.3C1831.4 2000.7 1835.4 2006.7 1840.4 2007.3C1844.1 2007.7 1846.3 2004.9 1847.3 2000.9" fill="none" stroke="#000" stroke-width="3.40" stroke-linecap="round"/><text transform="translate(1860.26 2007.1) scale(1.300 1)" font-size="37">=</text><path d="M1923.0 1983.3C1923.2 1979.3 1917.6 1978.7 1916.0 1984.4C1914.0 1991.9 1913.8 1999.9 1909.0 2004.3C1906.0 2007.1 1902.2 2008.5 1900.9 2006.7" fill="none" stroke="#000" stroke-width="2.60" stroke-linecap="round"/><path d="M1903.5 2003.3C1908.5 2000.7 1912.5 2006.7 1917.5 2007.3C1921.2 2007.7 1923.4 2004.9 1924.4 2000.9" fill="none" stroke="#000" stroke-width="3.40" stroke-linecap="round"/><text transform="translate(1926.05 2011.7) scale(1.138 1)" font-size="27" font-style="italic" letter-spacing="0.00">cc</text><text transform="translate(1964.31 2007.1) scale(1.300 1)" font-size="37">+</text><path d="M2025.0 1983.3C2025.2 1979.3 2019.6 1978.7 2018.0 1984.4C2016.0 1991.9 2015.8 1999.9 2011.0 2004.3C2008.0 2007.1 2004.2 2008.5 2002.9 2006.7" fill="none" stroke="#000" stroke-width="2.60" stroke-linecap="round"/><path d="M2005.5 2003.3C2010.5 2000.7 2014.5 2006.7 2019.5 2007.3C2023.2 2007.7 2025.4 2004.9 2026.4 2000.9" fill="none" stroke="#000" stroke-width="3.40" stroke-linecap="round"/><text transform="translate(2028.27 2011.7) scale(1.124 1)" font-size="27" font-style="italic" letter-spacing="0.00">cp</text><text transform="translate(2068.41 2007.1) scale(1.300 1)" font-size="37">+</text><path d="M2129.4 1983.3C2129.6 1979.3 2124.0 1978.7 2122.4 1984.4C2120.4 1991.9 2120.2 1999.9 2115.4 2004.3C2112.4 2007.1 2108.6 2008.5 2107.3 2006.7" fill="none" stroke="#000" stroke-width="2.60" stroke-linecap="round"/><path d="M2109.9 2003.3C2114.9 2000.7 2118.9 2006.7 2123.9 2007.3C2127.6 2007.7 2129.8 2004.9 2130.8 2000.9" fill="none" stroke="#000" stroke-width="3.40" stroke-linecap="round"/><text transform="translate(2130.74 2011.7) scale(1.150 1)" font-size="27" font-style="italic" letter-spacing="3.91">re</text></svg>
<svg style="left:0;top:0" width="1" height="1" font-family="'Liberation Sans',sans-serif"><defs><filter id="b1" x="-10%" y="-10%" width="120%" height="120%"><feGaussianBlur stdDeviation="1.0"/></filter><filter id="b2" x="-10%" y="-10%" width="120%" height="120%"><feGaussianBlur stdDeviation="1.8"/></filter><clipPath id="c1"><rect x="80.6" y="1573" width="110.4" height="106.8"/></clipPath><clipPath id="c2"><rect x="80.6" y="1816.2" width="110.4" height="107.5"/></clipPath></defs><g clip-path="url(#c1)"><g filter="url(#b1)"><rect x="76.6" y="1569" width="118.4" height="114.8" fill="#5e8c63"/><polygon points="80.6,1631.7 108.2,1626.4 91.6,1653.1 113.7,1671.3 157.9,1672.3 194.3,1647.8 194.3,1683.0 77.3,1683.0" fill="#5a8a5f"/><polygon points="108.2,1669.1 146.8,1671.3 157.9,1683.0 102.7,1683.0" fill="#7d9c7c"/><polygon points="109.3,1569.8 194.3,1569.8 194.3,1605.0 175.5,1596.5 141.3,1588.0 113.7,1590.1" fill="#b4cfdc"/><polygon points="113.7,1583.7 168.9,1585.8 175.5,1594.4 146.8,1590.1 113.7,1591.2" fill="#8fae9c"/><polygon points="77.3,1569.8 111.5,1569.8 101.6,1606.1 77.3,1606.1" fill="#414c60"/><polygon points="95.0,1569.8 102.7,1569.8 98.3,1594.4 91.6,1594.4" fill="#dfe7ee"/><polygon points="77.3,1577.3 91.6,1576.2 91.6,1580.5 77.3,1581.5" fill="#a9b7c6"/><polygon points="77.3,1606.1 101.6,1606.1 99.4,1615.7 77.3,1617.9" fill="#6f8a7c"/><polygon points="144.6,1569.8 194.3,1569.8 194.3,1579.4 183.3,1585.8 149.0,1576.2" fill="#3d5fa6"/><polygon points="173.3,1588.0 194.3,1593.3 194.3,1608.2 177.8,1598.6" fill="#e9efe6"/><polygon points="183.3,1601.8 194.3,1605.0 194.3,1631.7 185.5,1621.1" fill="#8fae9f"/><polygon points="93.8,1613.6 102.7,1615.7 96.1,1632.8 87.2,1629.6" fill="#eef2ee"/><polygon points="160.1,1674.5 174.4,1672.3 194.3,1676.6 194.3,1683.0 153.5,1683.0" fill="#0e1a14"/><path d="M 112.9 1588.9 L 166.7 1590.6 Q 183.3 1594.4 182.9 1609.8 L 173.1 1655.2 Q 168.9 1665.9 150.2 1666.5 L 118.1 1664.1 Q 99.4 1658.4 91.4 1649.5 Z" fill="#df636b"/><path d="M 118.1 1600.1 L 165.6 1601.6 Q 175.5 1604.0 175.0 1611.4 L 164.5 1651.0 Q 161.2 1657.4 149.0 1656.8 L 108.2 1652.6 Q 99.4 1649.9 100.5 1644.0 Z" fill="#4a7c52"/><path d="M 127.0 1609.3 L 162.3 1610.4 L 153.5 1647.8 L 113.7 1644.6 Z" fill="#527f55"/><polygon points="175.5,1637.1 183.3,1637.1 182.2,1643.5 174.4,1643.5" fill="#e4ebe2"/></g></g><g clip-path="url(#c2)"><g filter="url(#b2)"><rect x="76.6" y="1812.2" width="118.4" height="115.5" fill="#5e9468"/><polygon points="77.3,1813.0 194.3,1813.0 194.3,1852.8 146.8,1842.0 77.3,1838.8" fill="#b9d5e6"/><polygon points="77.3,1813.0 122.6,1813.0 124.8,1821.6 77.3,1823.7" fill="#eef3ee"/><polygon points="122.6,1813.0 194.3,1813.0 191.0,1821.6 176.6,1833.4 124.8,1819.4" fill="#4567ad"/><polygon points="77.3,1837.7 146.8,1839.9 163.4,1850.6 77.3,1845.2" fill="#9db7a6"/><polygon points="151.3,1837.7 194.3,1849.5 194.3,1878.5 176.6,1881.8 143.5,1849.5" fill="#f1f4ec"/><path d="M 151.3 1838.8 L 194.3 1850.6" fill="none" stroke="#3d3a22" stroke-width="2.2"/><polygon points="176.6,1880.7 194.3,1876.4 194.3,1902.2 180.0,1900.0" fill="#a9c0b4"/><polygon points="175.5,1891.5 194.3,1902.2 194.3,1926.9 168.9,1926.9" fill="#a3b59c"/><path d="M 75.1 1854.9 L 119.2 1857.6 Q 155.7 1863.5 165.1 1889.3 Q 168.9 1908.7 157.9 1929.1" fill="none" stroke="#e9626f" stroke-width="25"/><path d="M 75.1 1847.4 L 122.6 1850.1 Q 162.3 1858.1 173.3 1887.2 Q 176.6 1908.7 166.7 1929.1" fill="none" stroke="#f0838c" stroke-width="6"/><path d="M 75.1 1872.1 L 113.7 1873.2 Q 146.8 1877.5 153.5 1896.8 Q 155.7 1910.8 146.8 1929.1 L 75.1 1929.1 Z" fill="#55906a"/><path d="M 75.1 1882.9 L 108.2 1882.9 Q 135.8 1887.2 135.8 1929.1 L 75.1 1929.1 Z" fill="#6d9a73"/><polygon points="183.3,1906.5 194.3,1902.2 194.3,1926.9 180.0,1926.9" fill="#e07f7f"/></g></g><rect x="221.8" y="1557.2" width="410.5" height="138.6" rx="5" fill="#f2f3f5" stroke="#7f8792" stroke-width="1.5" stroke-dasharray="13 5"/><rect x="221.8" y="1800.9" width="410.5" height="138.6" rx="5" fill="#f2f3f5" stroke="#7f8792" stroke-width="1.5" stroke-dasharray="13 5"/><path d="M135.9 1680.0 L135.9 1736.0" fill="none" stroke="#3a414a" stroke-width="1.8"/><path d="M135.9 1756.5 L135.9 1805.0" fill="none" stroke="#3a414a" stroke-width="1.8"/><polygon points="135.9,1815.7 131.1,1802.7 140.7,1802.7" fill="#3a414a"/><text x="135.7" y="1751.0" font-size="14" fill="#333" text-anchor="middle">RandomResizedCrop</text><path d="M191.0 1626.1 L226.6 1626.1" fill="none" stroke="#3a414a" stroke-width="1.8"/><polygon points="237.0,1626.1 224.0,1630.9 224.0,1621.3" fill="#3a414a"/><path d="M200 1626.1 Q206.5 1626.1 206.5 1620.1 L206.5 1530.6 Q206.5 1525.6 212 1525.6 L527 1525.6" fill="none" stroke="#3a414a" stroke-width="1.8"/><polygon points="537.0,1525.6 524.0,1530.4 524.0,1520.8" fill="#3a414a"/><path d="M191.0 1870.1 L226.6 1870.1" fill="none" stroke="#3a414a" stroke-width="1.8"/><polygon points="237.0,1870.1 224.0,1874.9 224.0,1865.3" fill="#3a414a"/><path d="M200 1870.1 Q206.5 1870.1 206.5 1876.1 L206.5 1966 Q206.5 1971 212 1971 L527 1971" fill="none" stroke="#3a414a" stroke-width="1.8"/><polygon points="537.0,1971.0 524.0,1975.8 524.0,1966.2" fill="#3a414a"/><rect x="238.0" y="1572.7" width="63.8" height="108.1" rx="5" fill="#fff" stroke="#9aa1ab" stroke-width="1" stroke-dasharray="5 3"/><text x="273.3" y="1626.8" font-size="17.8" fill="#3a414a" text-anchor="middle" font-weight="bold" transform="rotate(-90 273.3 1626.8)">Encoder</text><rect x="434.3" y="1572.7" width="63.4" height="108.1" rx="5" fill="#fff" stroke="#9aa1ab" stroke-width="1" stroke-dasharray="5 3"/><text x="469.4" y="1626.8" font-size="17.8" fill="#3a414a" text-anchor="middle" font-weight="bold" transform="rotate(-90 469.4 1626.8)">Decoder</text><path d="M301.8 1626.3 L314.7 1626.3" fill="none" stroke="#3a414a" stroke-width="1"/><polygon points="323.5,1626.3 312.5,1630.2 312.5,1622.4" fill="#3a414a"/><polygon points="332.5,1607.2 407.9,1607.2 397.7,1646.1 322.3,1646.1" fill="#3a414a" stroke="#3a414a" stroke-width="7.0" stroke-linejoin="round"/><polygon points="332.5,1607.2 407.9,1607.2 397.7,1646.1 322.3,1646.1" fill="#df8fff" stroke="#df8fff" stroke-width="5.0" stroke-linejoin="round"/><text x="366.5" y="1621.1" font-size="13.6" fill="#fff" text-anchor="middle">Encoder</text><text x="364.5" y="1637.5" font-size="13.6" fill="#fff" text-anchor="middle">Embed</text><path d="M406.0 1626.3 L425.0 1626.3" fill="none" stroke="#3a414a" stroke-width="1"/><polygon points="433.8,1626.3 422.8,1630.2 422.8,1622.4" fill="#3a414a"/><polygon points="536.5,1575.3 612.1,1575.3 602.4,1615.1 526.2,1615.1" fill="#3a414a" stroke="#3a414a" stroke-width="7.0" stroke-linejoin="round"/><polygon points="536.5,1575.3 612.1,1575.3 602.4,1615.1 526.2,1615.1" fill="#6db1ff" stroke="#6db1ff" stroke-width="5.0" stroke-linejoin="round"/><text x="571.0" y="1588.8" font-size="13.6" fill="#fff" text-anchor="middle">Decoder</text><text x="568.0" y="1605.4" font-size="13.6" fill="#fff" text-anchor="middle">Pred</text><polygon points="535.9,1637.6 611.4,1637.6 601.7,1677.3 525.5,1677.3" fill="#3a414a" stroke="#3a414a" stroke-width="7.0" stroke-linejoin="round"/><polygon points="535.9,1637.6 611.4,1637.6 601.7,1677.3 525.5,1677.3" fill="#958eff" stroke="#958eff" stroke-width="5.0" stroke-linejoin="round"/><text x="570.5" y="1650.7" font-size="13.6" fill="#fff" text-anchor="middle">Decoder</text><text x="567.5" y="1667.5" font-size="13.6" fill="#fff" text-anchor="middle">Embed</text><path d="M497.7 1595.0 L518.5 1595.0" fill="none" stroke="#3a414a" stroke-width="1"/><polygon points="527.3,1595.0 516.3,1598.9 516.3,1591.1" fill="#3a414a"/><path d="M497.7 1657.3 L517.8 1657.3" fill="none" stroke="#3a414a" stroke-width="1"/><polygon points="526.6,1657.3 515.6,1661.2 515.6,1653.4" fill="#3a414a"/><rect x="238.0" y="1816.4" width="63.8" height="108.1" rx="5" fill="#fff" stroke="#9aa1ab" stroke-width="1" stroke-dasharray="5 3"/><text x="273.3" y="1870.5" font-size="17.8" fill="#3a414a" text-anchor="middle" font-weight="bold" transform="rotate(-90 273.3 1870.5)">Encoder</text><rect x="434.3" y="1816.4" width="63.4" height="108.1" rx="5" fill="#fff" stroke="#9aa1ab" stroke-width="1" stroke-dasharray="5 3"/><text x="469.4" y="1870.5" font-size="17.8" fill="#3a414a" text-anchor="middle" font-weight="bold" transform="rotate(-90 469.4 1870.5)">Decoder</text><path d="M301.8 1870.0 L314.7 1870.0" fill="none" stroke="#3a414a" stroke-width="1"/><polygon points="323.5,1870.0 312.5,1873.9 312.5,1866.1" fill="#3a414a"/><polygon points="332.5,1850.9 407.9,1850.9 397.7,1889.8 322.3,1889.8" fill="#3a414a" stroke="#3a414a" stroke-width="7.0" stroke-linejoin="round"/><polygon points="332.5,1850.9 407.9,1850.9 397.7,1889.8 322.3,1889.8" fill="#df8fff" stroke="#df8fff" stroke-width="5.0" stroke-linejoin="round"/><text x="366.5" y="1864.8" font-size="13.6" fill="#fff" text-anchor="middle">Encoder</text><text x="364.5" y="1881.2" font-size="13.6" fill="#fff" text-anchor="middle">Embed</text><path d="M406.0 1870.0 L425.0 1870.0" fill="none" stroke="#3a414a" stroke-width="1"/><polygon points="433.8,1870.0 422.8,1873.9 422.8,1866.1" fill="#3a414a"/><polygon points="536.3,1819.9 611.8,1819.9 601.7,1858.9 525.5,1858.9" fill="#3a414a" stroke="#3a414a" stroke-width="7.0" stroke-linejoin="round"/><polygon points="536.3,1819.9 611.8,1819.9 601.7,1858.9 525.5,1858.9" fill="#958eff" stroke="#958eff" stroke-width="5.0" stroke-linejoin="round"/><text x="571.0" y="1833.0" font-size="13.6" fill="#fff" text-anchor="middle">Decoder</text><text x="568.0" y="1849.2" font-size="13.6" fill="#fff" text-anchor="middle">Embed</text><polygon points="534.7,1881.8 610.3,1881.8 600.6,1920.5 524.4,1920.5" fill="#3a414a" stroke="#3a414a" stroke-width="7.0" stroke-linejoin="round"/><polygon points="534.7,1881.8 610.3,1881.8 600.6,1920.5 524.4,1920.5" fill="#6db1ff" stroke="#6db1ff" stroke-width="5.0" stroke-linejoin="round"/><text x="569.5" y="1894.4" font-size="13.6" fill="#fff" text-anchor="middle">Decoder</text><text x="566.0" y="1911.0" font-size="13.6" fill="#fff" text-anchor="middle">Pred</text><path d="M497.7 1839.6 L518.7 1839.6" fill="none" stroke="#3a414a" stroke-width="1"/><polygon points="527.5,1839.6 516.5,1843.5 516.5,1835.7" fill="#3a414a"/><path d="M497.7 1901.1 L517.2 1901.1" fill="none" stroke="#3a414a" stroke-width="1"/><polygon points="526.0,1901.1 515.0,1905.0 515.0,1897.2" fill="#3a414a"/><rect x="537.5" y="1511.0" width="79.2" height="29.8" rx="4.5" fill="#f8f4e3" stroke="#3a414a" stroke-width="1"/><text x="577.0" y="1529.7" font-size="10.6" fill="#3a414a" text-anchor="middle" font-weight="bold">Patchify</text><path d="M616.7 1525.6 L651.8 1525.6" fill="none" stroke="#3a414a" stroke-width="1.8"/><polygon points="662.2,1525.6 649.2,1530.4 649.2,1520.8" fill="#3a414a"/><rect x="662.7" y="1510.3" width="47.9" height="108.3" rx="4.5" fill="#fff" stroke="#555c66" stroke-width="1"/><text x="683.7" y="1564.2" font-size="13.6" fill="#3a414a" text-anchor="middle" transform="rotate(-90 683.7 1564.2)">Reconstruction</text><text x="700.7" y="1564.2" font-size="13.6" fill="#3a414a" text-anchor="middle" transform="rotate(-90 700.7 1564.2)">Loss</text><path d="M609.5 1595.0 L651.8 1595.0" fill="none" stroke="#3a414a" stroke-width="1.8"/><polygon points="662.2,1595.0 649.2,1599.8 649.2,1590.2" fill="#3a414a"/><rect x="537.5" y="1955.2" width="79.1" height="31.0" rx="4.5" fill="#f8f4e3" stroke="#3a414a" stroke-width="1"/><text x="577.0" y="1974.6" font-size="10.6" fill="#3a414a" text-anchor="middle">Patchify</text><path d="M616.6 1970.8 L653.1 1970.8" fill="none" stroke="#3a414a" stroke-width="1.8"/><polygon points="663.5,1970.8 650.5,1975.6 650.5,1966.0" fill="#3a414a"/><rect x="664.0" y="1877.8" width="47.7" height="107.7" rx="4.5" fill="#fff" stroke="#555c66" stroke-width="1"/><text x="684.8" y="1931.8" font-size="13.6" fill="#3a414a" text-anchor="middle" transform="rotate(-90 684.8 1931.8)">Reconstruction</text><text x="701.8" y="1931.8" font-size="13.6" fill="#3a414a" text-anchor="middle" transform="rotate(-90 701.8 1931.8)">Loss</text><path d="M608.2 1900.8 L653.1 1900.8" fill="none" stroke="#3a414a" stroke-width="1.8"/><polygon points="663.5,1900.8 650.5,1905.6 650.5,1896.0" fill="#3a414a"/><rect x="662.8" y="1800.9" width="47.8" height="61.9" rx="4.5" fill="#f8f4e3" stroke="#555c66" stroke-width="1"/><text x="683.5" y="1831.8" font-size="13.6" fill="#3a414a" text-anchor="middle" transform="rotate(-90 683.5 1831.8)">MLP</text><text x="700.5" y="1831.8" font-size="13.6" fill="#3a414a" text-anchor="middle" transform="rotate(-90 700.5 1831.8)">Predictor</text><path d="M610.4 1840.8 Q632 1839 652 1833.6" fill="none" stroke="#3a414a" stroke-width="1.6"/><polygon points="662.0,1831.6 650.7,1838.6 648.8,1829.8" fill="#3a414a"/><rect x="426.5" y="1725.9" width="110.6" height="46.0" rx="5" fill="#ffd9d9" stroke="#3a414a" stroke-width="1"/><rect x="579.5" y="1725.9" width="110.1" height="46.0" rx="5" fill="#ffd9d9" stroke="#3a414a" stroke-width="1"/><rect x="733.2" y="1725.9" width="67.0" height="46.0" rx="5" fill="#ffd9d9" stroke="#3a414a" stroke-width="1"/><rect x="843.5" y="1725.9" width="67.2" height="46.0" rx="5" fill="#ff7070" stroke="#3a414a" stroke-width="1"/><text x="481.8" y="1745.3" font-size="13.6" fill="#3a414a" text-anchor="middle" font-weight="bold">Contrastive</text><text x="481.8" y="1761.9" font-size="13.6" fill="#3a414a" text-anchor="middle" font-weight="bold">Loss</text><text x="634.5" y="1750.4" font-size="13.6" fill="#3a414a" text-anchor="middle" font-weight="bold">MSE Loss</text><text x="766.7" y="1750.4" font-size="13.6" fill="#3a414a" text-anchor="middle" font-weight="bold">Mean</text><text x="877.0" y="1745.3" font-size="13.6" fill="#fff" text-anchor="middle" font-weight="bold">Final</text><text x="877.0" y="1761.9" font-size="13.6" fill="#fff" text-anchor="middle" font-weight="bold">Loss</text><path d="M552.9 1746.6h11.2M558.5 1741v11.2" stroke="#3a414a" stroke-width="2.2" fill="none"/><path d="M705.4 1746.6h11.2M711 1741v11.2" stroke="#3a414a" stroke-width="2.2" fill="none"/><path d="M815.2 1743.6h12M815.2 1749.8h12" stroke="#3a414a" stroke-width="2.2" fill="none"/><path d="M364.7 1649.4 C366 1690, 420 1681, 455 1696 C474 1704, 479 1709, 480.6 1715" fill="none" stroke="#3a414a" stroke-width="1.6"/><polygon points="481.4,1725.6 475.7,1713.1 484.8,1712.2" fill="#3a414a"/><path d="M365.1 1848.4 C366 1808, 418 1814, 452 1801 C472 1793.5, 478 1789, 480.3 1783" fill="none" stroke="#3a414a" stroke-width="1.6"/><polygon points="481.2,1772.4 484.6,1785.8 475.5,1784.9" fill="#3a414a"/><path d="M609.6 1657.3 C630 1657, 634.5 1675, 634.5 1714" fill="none" stroke="#3a414a" stroke-width="1.6"/><polygon points="634.5,1725.6 629.9,1712.6 639.1,1712.6" fill="#3a414a"/><path d="M686.8 1618.6 C687 1668, 750 1672, 763.5 1714" fill="none" stroke="#3a414a" stroke-width="1.6"/><polygon points="765.9,1725.6 759.1,1713.6 768.2,1712.0" fill="#3a414a"/><path d="M687.4 1800.9 C686 1786, 664 1786, 645 1781.5" fill="none" stroke="#3a414a" stroke-width="1.6"/><polygon points="635.2,1772.4 647.5,1777.4 641.5,1784.1" fill="#3a414a"/><path d="M711.7 1932 C770 1930, 768 1850, 766.8 1784" fill="none" stroke="#3a414a" stroke-width="1.6"/><polygon points="766.8,1772.4 771.4,1785.4 762.2,1785.4" fill="#3a414a"/><rect x="953.0" y="1483.0" width="71.4" height="62.0" rx="0" fill="#6db1ff" stroke="none" stroke-width="0"/><text x="988.6" y="1509.4" font-size="17.2" fill="#fff" text-anchor="middle">Input</text><text x="988.6" y="1531.0" font-size="17.2" fill="#fff" text-anchor="middle">Image</text><rect x="922.4" y="1564.7" width="136.4" height="364.3" rx="4" fill="#f2f3f5" stroke="#c5c9cf" stroke-width="1.2" stroke-dasharray="9 4"/><rect x="933.5" y="1575.6" width="114.2" height="91.5" rx="4" fill="#ecf3fd" stroke="#8dbdf9" stroke-width="1" stroke-dasharray="5 3"/><path d="M990.3 1545.0 L990.3 1565.8" fill="none" stroke="#3a414a" stroke-width="1.6"/><polygon points="990.3,1575.0 986.4,1563.5 994.2,1563.5" fill="#3a414a"/><rect x="945.2" y="1587.3" width="91.4" height="23.3" rx="3.5" fill="#fff" stroke="#90c0ff" stroke-width="1"/><text x="991.0" y="1601.2" font-size="9.3" fill="#3a414a" text-anchor="middle">Patch Embed</text><path d="M986.8 1623h7M990.3 1619.5v7" stroke="#6db1ff" stroke-width="1.1" fill="none"/><rect x="945.2" y="1632.6" width="91.4" height="23.0" rx="3.5" fill="#fff" stroke="#90c0ff" stroke-width="1"/><text x="991.0" y="1646.2" font-size="9.3" fill="#3a414a" text-anchor="middle">Positional Enc.</text><path d="M944.8 1667.1 L944.8 1690.0" fill="none" stroke="#3a414a" stroke-width="1.2"/><polygon points="944.8,1686.3 952.1,1693.5 944.8,1700.7 937.5,1693.5" fill="#3a414a"/><path d="M975.6 1667.1 L975.6 1690.0" fill="none" stroke="#3a414a" stroke-width="1.2"/><polygon points="975.6,1686.3 982.9,1693.5 975.6,1700.7 968.3,1693.5" fill="#3a414a"/><path d="M1006.6 1667.1 L1006.6 1690.0" fill="none" stroke="#3a414a" stroke-width="1.2"/><polygon points="1006.6,1686.3 1013.9,1693.5 1006.6,1700.7 999.3,1693.5" fill="#3a414a"/><path d="M1036.6 1667.1 L1036.6 1690.0" fill="none" stroke="#3a414a" stroke-width="1.2"/><polygon points="1036.6,1686.3 1043.9,1693.5 1036.6,1700.7 1029.3,1693.5" fill="#3a414a"/><rect x="933.5" y="1701.5" width="114.2" height="23.0" rx="3.5" fill="#fff" stroke="#555c66" stroke-width="1"/><text x="990.6" y="1715.6" font-size="9.3" fill="#3a414a" text-anchor="middle">Random Masking</text><path d="M944.8 1724.5 L944.8 1744.8" fill="none" stroke="#8a9099" stroke-width="0.8"/><polygon points="944.8,1744.1 951.6,1750.8 944.8,1757.5 938.0,1750.8" fill="#fff" stroke="#8a9099" stroke-width="0.9"/><path d="M944.8 1860.7 L944.8 1881.3" fill="none" stroke="#8a9099" stroke-width="0.8"/><polygon points="944.8,1880.6 951.6,1887.3 944.8,1894.0 938.0,1887.3" fill="#fff" stroke="#8a9099" stroke-width="0.9"/><path d="M975.6 1724.5 L975.6 1745.8" fill="none" stroke="#3a414a" stroke-width="1.2"/><polygon points="975.6,1743.6 982.9,1750.8 975.6,1758.0 968.3,1750.8" fill="#3a414a"/><path d="M975.6 1860.7 L975.6 1882.3" fill="none" stroke="#3a414a" stroke-width="1.2"/><polygon points="975.6,1880.1 982.9,1887.3 975.6,1894.5 968.3,1887.3" fill="#3a414a"/><path d="M1006.6 1724.5 L1006.6 1744.8" fill="none" stroke="#8a9099" stroke-width="0.8"/><polygon points="1006.6,1744.1 1013.4,1750.8 1006.6,1757.5 999.8,1750.8" fill="#fff" stroke="#8a9099" stroke-width="0.9"/><path d="M1006.6 1860.7 L1006.6 1881.3" fill="none" stroke="#8a9099" stroke-width="0.8"/><polygon points="1006.6,1880.6 1013.4,1887.3 1006.6,1894.0 999.8,1887.3" fill="#fff" stroke="#8a9099" stroke-width="0.9"/><path d="M1036.6 1724.5 L1036.6 1745.8" fill="none" stroke="#3a414a" stroke-width="1.2"/><polygon points="1036.6,1743.6 1043.9,1750.8 1036.6,1758.0 1029.3,1750.8" fill="#3a414a"/><path d="M1036.6 1860.7 L1036.6 1882.3" fill="none" stroke="#3a414a" stroke-width="1.2"/><polygon points="1036.6,1880.1 1043.9,1887.3 1036.6,1894.5 1029.3,1887.3" fill="#3a414a"/><rect x="933.5" y="1758.3" width="114.2" height="102.4" rx="4" fill="#fbeeff" stroke="#e7a3ff" stroke-width="1" stroke-dasharray="5 3"/><rect x="944.6" y="1769.6" width="91.6" height="22.6" rx="3.5" fill="#fff" stroke="#e9abff" stroke-width="1"/><text x="990.6" y="1782.8" font-size="9.3" fill="#3a414a" text-anchor="middle">Transformer Block</text><rect x="944.6" y="1827.0" width="91.6" height="22.6" rx="3.5" fill="#fff" stroke="#e9abff" stroke-width="1"/><text x="990.6" y="1839.8" font-size="9.3" fill="#3a414a" text-anchor="middle">Transformer Block</text><rect x="989.5" y="1805.9" width="1.1" height="1.1" fill="#d86bff"/><rect x="989.5" y="1808.9" width="1.1" height="1.1" fill="#d86bff"/><rect x="989.5" y="1811.9" width="1.1" height="1.1" fill="#d86bff"/><rect x="933.5" y="1895.0" width="114.2" height="23.5" rx="3.5" fill="#e3f9e1" stroke="#6c737d" stroke-width="1"/><text x="990.6" y="1908.6" font-size="9.3" fill="#3a414a" text-anchor="middle">Layer Norm</text><path d="M990.3 1918.5 L990.3 1959.2" fill="none" stroke="#3a414a" stroke-width="1.6"/><polygon points="990.3,1968.4 986.4,1956.9 994.2,1956.9" fill="#3a414a"/><polygon points="959.5,1972.7 1026.6,1972.7 1016.5,2011.0 949.5,2011.0" fill="#3a414a" stroke="#3a414a" stroke-width="7.0" stroke-linejoin="round"/><polygon points="959.5,1972.7 1026.6,1972.7 1016.5,2011.0 949.5,2011.0" fill="#df8fff" stroke="#df8fff" stroke-width="5.0" stroke-linejoin="round"/><text x="989.5" y="1987.4" font-size="9.6" fill="#fff" text-anchor="middle" font-weight="bold">Encoder</text><text x="986.5" y="1999.6" font-size="9.6" fill="#fff" text-anchor="middle" font-weight="bold">Embed</text><path d="M1068.4 1564.7 Q1072.6 1564.7 1072.6 1569.7 L1072.6 1742.8 Q1072.6 1746.8 1077.0 1746.8 Q1072.6 1746.8 1072.6 1750.8 L1072.6 1924.0 Q1072.6 1929.0 1068.4 1929.0" fill="none" stroke="#555c66" stroke-width="0.9"/><text x="1084.8" y="1747.3" font-size="10.4" fill="#3a414a" text-anchor="middle" font-weight="bold" transform="rotate(90 1084.8 1747.3)">Encoder</text><polygon points="1152.8,1487.3 1215.1,1487.3 1205.0,1526.4 1142.7,1526.4" fill="#3a414a" stroke="#3a414a" stroke-width="7.0" stroke-linejoin="round"/><polygon points="1152.8,1487.3 1215.1,1487.3 1205.0,1526.4 1142.7,1526.4" fill="#df8fff" stroke="#df8fff" stroke-width="5.0" stroke-linejoin="round"/><text x="1180.4" y="1502.6" font-size="9.6" fill="#fff" text-anchor="middle" font-weight="bold">Encoder</text><text x="1177.0" y="1515.0" font-size="9.6" fill="#fff" text-anchor="middle" font-weight="bold">Embed</text><rect x="1108.6" y="1570.5" width="138.7" height="357.5" rx="4" fill="#f2f3f5" stroke="#c5c9cf" stroke-width="1.2" stroke-dasharray="9 4"/><rect x="1121.0" y="1582.5" width="115.8" height="91.9" rx="4" fill="#ecf3fd" stroke="#8dbdf9" stroke-width="1" stroke-dasharray="5 3"/><path d="M1178.4 1529.9 L1178.4 1572.0" fill="none" stroke="#3a414a" stroke-width="1.6"/><polygon points="1178.4,1581.2 1174.5,1569.7 1182.3,1569.7" fill="#3a414a"/><rect x="1132.5" y="1593.8" width="92.8" height="22.6" rx="3.5" fill="#fff" stroke="#90c0ff" stroke-width="1"/><text x="1179.0" y="1607.0" font-size="9.3" fill="#3a414a" text-anchor="middle">Linear Layer</text><path d="M1175.5 1629.8h7M1179 1626.3v7" stroke="#6db1ff" stroke-width="1.1" fill="none"/><rect x="1132.5" y="1639.7" width="92.8" height="23.2" rx="3.5" fill="#fff" stroke="#90c0ff" stroke-width="1"/><text x="1179.0" y="1652.9" font-size="9.3" fill="#3a414a" text-anchor="middle">Positional Enc.</text><path d="M1131.5 1674.4 L1131.5 1698.0" fill="none" stroke="#3a414a" stroke-width="1.2"/><polygon points="1131.5,1694.0 1138.8,1701.2 1131.5,1708.4 1124.2,1701.2" fill="#3a414a"/><path d="M1163.1 1674.4 L1163.1 1698.0" fill="none" stroke="#3a414a" stroke-width="1.2"/><polygon points="1163.1,1694.0 1170.4,1701.2 1163.1,1708.4 1155.8,1701.2" fill="#3a414a"/><path d="M1194.7 1674.4 L1194.7 1698.0" fill="none" stroke="#3a414a" stroke-width="1.2"/><polygon points="1194.7,1694.0 1202.0,1701.2 1194.7,1708.4 1187.4,1701.2" fill="#3a414a"/><path d="M1225.3 1674.4 L1225.3 1698.0" fill="none" stroke="#3a414a" stroke-width="1.2"/><polygon points="1225.3,1694.0 1232.6,1701.2 1225.3,1708.4 1218.0,1701.2" fill="#3a414a"/><rect x="1121.0" y="1708.8" width="115.8" height="104.4" rx="4" fill="#fbeeff" stroke="#e7a3ff" stroke-width="1" stroke-dasharray="5 3"/><rect x="1132.1" y="1720.3" width="92.6" height="22.9" rx="3.5" fill="#fff" stroke="#e9abff" stroke-width="1"/><text x="1179.0" y="1733.9" font-size="9.3" fill="#3a414a" text-anchor="middle">Transformer Block</text><rect x="1132.1" y="1778.2" width="92.6" height="23.0" rx="3.5" fill="#fff" stroke="#e9abff" stroke-width="1"/><text x="1179.0" y="1791.4" font-size="9.3" fill="#3a414a" text-anchor="middle">Transformer Block</text><rect x="1177.7" y="1757.5" width="1.1" height="1.1" fill="#d86bff"/><rect x="1177.7" y="1760.5" width="1.1" height="1.1" fill="#d86bff"/><rect x="1177.7" y="1763.5" width="1.1" height="1.1" fill="#d86bff"/><path d="M1132.1 1813.2 L1132.1 1836.0" fill="none" stroke="#3a414a" stroke-width="1.2"/><polygon points="1132.1,1832.3 1139.4,1839.5 1132.1,1846.7 1124.8,1839.5" fill="#3a414a"/><path d="M1163.7 1813.2 L1163.7 1836.0" fill="none" stroke="#3a414a" stroke-width="1.2"/><polygon points="1163.7,1832.3 1171.0,1839.5 1163.7,1846.7 1156.4,1839.5" fill="#3a414a"/><path d="M1195.3 1813.2 L1195.3 1836.0" fill="none" stroke="#3a414a" stroke-width="1.2"/><polygon points="1195.3,1832.3 1202.6,1839.5 1195.3,1846.7 1188.0,1839.5" fill="#3a414a"/><path d="M1225.7 1813.2 L1225.7 1836.0" fill="none" stroke="#3a414a" stroke-width="1.2"/><polygon points="1225.7,1832.3 1233.0,1839.5 1225.7,1846.7 1218.4,1839.5" fill="#3a414a"/><rect x="1120.6" y="1847.7" width="115.8" height="23.5" rx="3.5" fill="#e3f9e1" stroke="#6c737d" stroke-width="1"/><text x="1178.8" y="1861.2" font-size="9.3" fill="#3a414a" text-anchor="middle">Layer Norm</text><path d="M1149.7 1871.2 L1149.7 1884.0" fill="none" stroke="#3a414a" stroke-width="1.6"/><polygon points="1149.7,1892.8 1145.9,1881.8 1153.5,1881.8" fill="#3a414a"/><rect x="1121.0" y="1893.0" width="57.4" height="23.0" rx="3.5" fill="#f8f4e3" stroke="#8a9099" stroke-width="1"/><text x="1150.0" y="1907.2" font-size="9.3" fill="#3a414a" text-anchor="middle">Projection</text><path d="M1149.7 1916.0 L1149.7 1959.2" fill="none" stroke="#3a414a" stroke-width="1.6"/><polygon points="1149.7,1968.4 1145.8,1956.9 1153.6,1956.9" fill="#3a414a"/><path d="M1207.1 1871.2 L1207.1 1959.2" fill="none" stroke="#3a414a" stroke-width="1.6"/><polygon points="1207.1,1968.4 1203.2,1956.9 1211.0,1956.9" fill="#3a414a"/><polygon points="1117.4,1972.7 1179.3,1972.7 1168.7,2011.6 1106.7,2011.6" fill="#3a414a" stroke="#3a414a" stroke-width="7.0" stroke-linejoin="round"/><polygon points="1117.4,1972.7 1179.3,1972.7 1168.7,2011.6 1106.7,2011.6" fill="#6db1ff" stroke="#6db1ff" stroke-width="5.0" stroke-linejoin="round"/><text x="1144.8" y="1987.6" font-size="9.6" fill="#fff" text-anchor="middle" font-weight="bold">Decoder</text><text x="1141.5" y="1999.9" font-size="9.6" fill="#fff" text-anchor="middle" font-weight="bold">Pred</text><polygon points="1193.5,1972.7 1255.7,1972.7 1244.6,2011.6 1182.9,2011.6" fill="#3a414a" stroke="#3a414a" stroke-width="7.0" stroke-linejoin="round"/><polygon points="1193.5,1972.7 1255.7,1972.7 1244.6,2011.6 1182.9,2011.6" fill="#958eff" stroke="#958eff" stroke-width="5.0" stroke-linejoin="round"/><text x="1221.5" y="1987.6" font-size="9.6" fill="#fff" text-anchor="middle" font-weight="bold">Decoder</text><text x="1218.0" y="1999.9" font-size="9.6" fill="#fff" text-anchor="middle" font-weight="bold">Embed</text><path d="M1257.8 1570.5 Q1262.0 1570.5 1262.0 1575.5 L1262.0 1744.8 Q1262.0 1748.8 1266.4 1748.8 Q1262.0 1748.8 1262.0 1752.8 L1262.0 1923.0 Q1262.0 1928.0 1257.8 1928.0" fill="none" stroke="#555c66" stroke-width="0.9"/><text x="1274.2" y="1749.7" font-size="10.4" fill="#3a414a" text-anchor="middle" font-weight="bold" transform="rotate(90 1274.2 1749.7)">Decoder</text></svg>
<svg style="left:0;top:0" width="1" height="1" font-family="'Liberation Sans',sans-serif" letter-spacing="0.00"><rect x="1466.9" y="2412.6" width="225.5" height="145.7" fill="#fff" stroke="#333" stroke-width="0.9"/><path d="M1494.8 2558.3v2.9" stroke="#333" stroke-width="0.8"/><text x="1494.8" y="2568.8" font-size="7.0" text-anchor="middle" fill="#222">0.2</text><path d="M1541.5 2558.3v2.9" stroke="#333" stroke-width="0.8"/><text x="1541.5" y="2568.8" font-size="7.0" text-anchor="middle" fill="#222">0.4</text><path d="M1588.2 2558.3v2.9" stroke="#333" stroke-width="0.8"/><text x="1588.2" y="2568.8" font-size="7.0" text-anchor="middle" fill="#222">0.6</text><path d="M1634.8 2558.3v2.9" stroke="#333" stroke-width="0.8"/><text x="1634.8" y="2568.8" font-size="7.0" text-anchor="middle" fill="#222">0.8</text><path d="M1681.5 2558.3v2.9" stroke="#333" stroke-width="0.8"/><text x="1681.5" y="2568.8" font-size="7.0" text-anchor="middle" fill="#222">1.0</text><path d="M1466.9 2558.3h-2.9" stroke="#333" stroke-width="0.8"/><text x="1462.3" y="2560.8" font-size="7.0" text-anchor="end" fill="#222">0.3</text><path d="M1466.9 2534.0h-2.9" stroke="#333" stroke-width="0.8"/><text x="1462.3" y="2536.5" font-size="7.0" text-anchor="end" fill="#222">0.4</text><path d="M1466.9 2509.7h-2.9" stroke="#333" stroke-width="0.8"/><text x="1462.3" y="2512.3" font-size="7.0" text-anchor="end" fill="#222">0.5</text><path d="M1466.9 2485.5h-2.9" stroke="#333" stroke-width="0.8"/><text x="1462.3" y="2488.0" font-size="7.0" text-anchor="end" fill="#222">0.6</text><path d="M1466.9 2461.2h-2.9" stroke="#333" stroke-width="0.8"/><text x="1462.3" y="2463.7" font-size="7.0" text-anchor="end" fill="#222">0.7</text><path d="M1466.9 2436.9h-2.9" stroke="#333" stroke-width="0.8"/><text x="1462.3" y="2439.4" font-size="7.0" text-anchor="end" fill="#222">0.8</text><path d="M1466.9 2412.6h-2.9" stroke="#333" stroke-width="0.8"/><text x="1462.3" y="2415.1" font-size="7.0" text-anchor="end" fill="#222">0.9</text><text x="1579.7" y="2408.6" font-size="7.8" text-anchor="middle" fill="#222">RESISC45</text><text x="1579.7" y="2577.3" font-size="7.0" text-anchor="middle" fill="#222">Scale Ratio to Raw Image</text><text x="1446.3" y="2485.4" font-size="7.0" text-anchor="middle" fill="#222" transform="rotate(-90 1446.3 2485.4)">KNN accuracy</text><clipPath id="cp1466"><rect x="1466.9" y="2412.6" width="225.5" height="145.7"/></clipPath><g clip-path="url(#cp1466)"><path d="M1477.3 2479.9 L1506.5 2439.6 L1564.8 2428.9 L1681.5 2424.0" fill="none" stroke="#3fa653" stroke-width="1.0"/><rect x="1475.0" y="2477.6" width="4.5" height="4.5" fill="#3fa653"/><rect x="1504.2" y="2437.3" width="4.5" height="4.5" fill="#3fa653"/><rect x="1562.6" y="2426.6" width="4.5" height="4.5" fill="#3fa653"/><rect x="1679.3" y="2421.8" width="4.5" height="4.5" fill="#3fa653"/><path d="M1477.3 2501.2 L1506.5 2472.6 L1564.8 2454.4 L1681.5 2451.0" fill="none" stroke="#ff5252" stroke-width="1.0" stroke-dasharray="1.0 2.0"/><circle cx="1477.3" cy="2501.2" r="2.5" fill="#ff5252"/><circle cx="1506.5" cy="2472.6" r="2.5" fill="#ff5252"/><circle cx="1564.8" cy="2454.4" r="2.5" fill="#ff5252"/><circle cx="1681.5" cy="2451.0" r="2.5" fill="#ff5252"/><path d="M1477.3 2538.1 L1506.5 2478.9 L1564.8 2437.1 L1681.5 2421.8" fill="none" stroke="#5555ff" stroke-width="1.0" stroke-dasharray="1.0 2.0"/><circle cx="1477.3" cy="2538.1" r="2.5" fill="#5555ff"/><circle cx="1506.5" cy="2478.9" r="2.5" fill="#5555ff"/><circle cx="1564.8" cy="2437.1" r="2.5" fill="#5555ff"/><circle cx="1681.5" cy="2421.8" r="2.5" fill="#5555ff"/></g><rect x="1628.8" y="2522.1" width="59.5" height="32.2" rx="1.5" fill="#fff" fill-opacity="0.85" stroke="#d0d0d0" stroke-width="0.8"/><path d="M1631.2 2528.3H1644.3" stroke="#3fa653" stroke-width="1.0"/><rect x="1635.5" y="2526.1" width="4.5" height="4.5" fill="#3fa653"/><text x="1651.0" y="2530.7" font-size="7.0" fill="#222">Cross-MAE</text><path d="M1631.2 2538.3H1644.3" stroke="#ff5252" stroke-width="1.0" stroke-dasharray="1.0 2.0"/><circle cx="1637.8" cy="2538.3" r="2.5" fill="#ff5252"/><text x="1651.0" y="2540.7" font-size="7.0" fill="#222">SatMAE</text><path d="M1631.2 2548.3H1644.3" stroke="#5555ff" stroke-width="1.0" stroke-dasharray="1.0 2.0"/><circle cx="1637.8" cy="2548.3" r="2.5" fill="#5555ff"/><text x="1651.0" y="2550.7" font-size="7.0" fill="#222">Scale-MAE</text></svg>
<svg style="left:0;top:0" width="1" height="1" font-family="'Liberation Sans',sans-serif" letter-spacing="0.00"><rect x="1732.9" y="2412.6" width="225.0" height="145.7" fill="#fff" stroke="#333" stroke-width="0.9"/><path d="M1760.8 2558.3v2.9" stroke="#333" stroke-width="0.8"/><text x="1760.8" y="2568.8" font-size="7.0" text-anchor="middle" fill="#222">0.2</text><path d="M1807.5 2558.3v2.9" stroke="#333" stroke-width="0.8"/><text x="1807.5" y="2568.8" font-size="7.0" text-anchor="middle" fill="#222">0.4</text><path d="M1854.2 2558.3v2.9" stroke="#333" stroke-width="0.8"/><text x="1854.2" y="2568.8" font-size="7.0" text-anchor="middle" fill="#222">0.6</text><path d="M1900.8 2558.3v2.9" stroke="#333" stroke-width="0.8"/><text x="1900.8" y="2568.8" font-size="7.0" text-anchor="middle" fill="#222">0.8</text><path d="M1947.5 2558.3v2.9" stroke="#333" stroke-width="0.8"/><text x="1947.5" y="2568.8" font-size="7.0" text-anchor="middle" fill="#222">1.0</text><path d="M1732.9 2558.3h-2.9" stroke="#333" stroke-width="0.8"/><text x="1728.3" y="2560.8" font-size="7.0" text-anchor="end" fill="#222">0.50</text><path d="M1732.9 2540.1h-2.9" stroke="#333" stroke-width="0.8"/><text x="1728.3" y="2542.6" font-size="7.0" text-anchor="end" fill="#222">0.55</text><path d="M1732.9 2521.9h-2.9" stroke="#333" stroke-width="0.8"/><text x="1728.3" y="2524.4" font-size="7.0" text-anchor="end" fill="#222">0.60</text><path d="M1732.9 2503.7h-2.9" stroke="#333" stroke-width="0.8"/><text x="1728.3" y="2506.2" font-size="7.0" text-anchor="end" fill="#222">0.65</text><path d="M1732.9 2485.5h-2.9" stroke="#333" stroke-width="0.8"/><text x="1728.3" y="2488.0" font-size="7.0" text-anchor="end" fill="#222">0.70</text><path d="M1732.9 2467.2h-2.9" stroke="#333" stroke-width="0.8"/><text x="1728.3" y="2469.8" font-size="7.0" text-anchor="end" fill="#222">0.75</text><path d="M1732.9 2449.0h-2.9" stroke="#333" stroke-width="0.8"/><text x="1728.3" y="2451.5" font-size="7.0" text-anchor="end" fill="#222">0.80</text><path d="M1732.9 2430.8h-2.9" stroke="#333" stroke-width="0.8"/><text x="1728.3" y="2433.3" font-size="7.0" text-anchor="end" fill="#222">0.85</text><path d="M1732.9 2412.6h-2.9" stroke="#333" stroke-width="0.8"/><text x="1728.3" y="2415.1" font-size="7.0" text-anchor="end" fill="#222">0.90</text><text x="1845.4" y="2408.6" font-size="7.8" text-anchor="middle" fill="#222">UCMerced</text><text x="1845.4" y="2577.3" font-size="7.0" text-anchor="middle" fill="#222">Scale Ratio to Raw Image</text><text x="1712.3" y="2485.4" font-size="7.0" text-anchor="middle" fill="#222" transform="rotate(-90 1712.3 2485.4)">KNN accuracy</text><clipPath id="cp1732"><rect x="1732.9" y="2412.6" width="225.0" height="145.7"/></clipPath><g clip-path="url(#cp1732)"><path d="M1743.3 2505.5 L1772.5 2473.1 L1830.8 2454.5 L1947.5 2437.7" fill="none" stroke="#3fa653" stroke-width="1.0"/><rect x="1741.0" y="2503.2" width="4.5" height="4.5" fill="#3fa653"/><rect x="1770.2" y="2470.8" width="4.5" height="4.5" fill="#3fa653"/><rect x="1828.6" y="2452.2" width="4.5" height="4.5" fill="#3fa653"/><rect x="1945.3" y="2435.5" width="4.5" height="4.5" fill="#3fa653"/><path d="M1743.3 2519.0 L1772.5 2496.7 L1830.8 2471.6 L1947.5 2457.0" fill="none" stroke="#ff5252" stroke-width="1.0" stroke-dasharray="1.0 2.0"/><circle cx="1743.3" cy="2519.0" r="2.5" fill="#ff5252"/><circle cx="1772.5" cy="2496.7" r="2.5" fill="#ff5252"/><circle cx="1830.8" cy="2471.6" r="2.5" fill="#ff5252"/><circle cx="1947.5" cy="2457.0" r="2.5" fill="#ff5252"/><path d="M1743.3 2549.6 L1772.5 2482.5 L1830.8 2461.0 L1947.5 2439.9" fill="none" stroke="#5555ff" stroke-width="1.0" stroke-dasharray="1.0 2.0"/><circle cx="1743.3" cy="2549.6" r="2.5" fill="#5555ff"/><circle cx="1772.5" cy="2482.5" r="2.5" fill="#5555ff"/><circle cx="1830.8" cy="2461.0" r="2.5" fill="#5555ff"/><circle cx="1947.5" cy="2439.9" r="2.5" fill="#5555ff"/></g><rect x="1894.8" y="2522.1" width="59.5" height="32.2" rx="1.5" fill="#fff" fill-opacity="0.85" stroke="#d0d0d0" stroke-width="0.8"/><path d="M1897.2 2528.3H1910.3" stroke="#3fa653" stroke-width="1.0"/><rect x="1901.5" y="2526.1" width="4.5" height="4.5" fill="#3fa653"/><text x="1917.0" y="2530.7" font-size="7.0" fill="#222">Cross-MAE</text><path d="M1897.2 2538.3H1910.3" stroke="#ff5252" stroke-width="1.0" stroke-dasharray="1.0 2.0"/><circle cx="1903.8" cy="2538.3" r="2.5" fill="#ff5252"/><text x="1917.0" y="2540.7" font-size="7.0" fill="#222">SatMAE</text><path d="M1897.2 2548.3H1910.3" stroke="#5555ff" stroke-width="1.0" stroke-dasharray="1.0 2.0"/><circle cx="1903.8" cy="2548.3" r="2.5" fill="#5555ff"/><text x="1917.0" y="2550.7" font-size="7.0" fill="#222">Scale-MAE</text></svg>
<svg style="left:0;top:0" width="1" height="1" font-family="'Liberation Sans',sans-serif" letter-spacing="0.00"><rect x="1998.1" y="2412.6" width="224.5" height="145.7" fill="#fff" stroke="#333" stroke-width="0.9"/><path d="M2026.0 2558.3v2.9" stroke="#333" stroke-width="0.8"/><text x="2026.0" y="2568.8" font-size="7.0" text-anchor="middle" fill="#222">0.2</text><path d="M2072.7 2558.3v2.9" stroke="#333" stroke-width="0.8"/><text x="2072.7" y="2568.8" font-size="7.0" text-anchor="middle" fill="#222">0.4</text><path d="M2119.4 2558.3v2.9" stroke="#333" stroke-width="0.8"/><text x="2119.4" y="2568.8" font-size="7.0" text-anchor="middle" fill="#222">0.6</text><path d="M2166.0 2558.3v2.9" stroke="#333" stroke-width="0.8"/><text x="2166.0" y="2568.8" font-size="7.0" text-anchor="middle" fill="#222">0.8</text><path d="M2212.7 2558.3v2.9" stroke="#333" stroke-width="0.8"/><text x="2212.7" y="2568.8" font-size="7.0" text-anchor="middle" fill="#222">1.0</text><path d="M1998.1 2558.3h-2.9" stroke="#333" stroke-width="0.8"/><text x="1993.5" y="2560.8" font-size="7.0" text-anchor="end" fill="#222">0.50</text><path d="M1998.1 2540.1h-2.9" stroke="#333" stroke-width="0.8"/><text x="1993.5" y="2542.6" font-size="7.0" text-anchor="end" fill="#222">0.55</text><path d="M1998.1 2521.9h-2.9" stroke="#333" stroke-width="0.8"/><text x="1993.5" y="2524.4" font-size="7.0" text-anchor="end" fill="#222">0.60</text><path d="M1998.1 2503.7h-2.9" stroke="#333" stroke-width="0.8"/><text x="1993.5" y="2506.2" font-size="7.0" text-anchor="end" fill="#222">0.65</text><path d="M1998.1 2485.5h-2.9" stroke="#333" stroke-width="0.8"/><text x="1993.5" y="2488.0" font-size="7.0" text-anchor="end" fill="#222">0.70</text><path d="M1998.1 2467.2h-2.9" stroke="#333" stroke-width="0.8"/><text x="1993.5" y="2469.8" font-size="7.0" text-anchor="end" fill="#222">0.75</text><path d="M1998.1 2449.0h-2.9" stroke="#333" stroke-width="0.8"/><text x="1993.5" y="2451.5" font-size="7.0" text-anchor="end" fill="#222">0.80</text><path d="M1998.1 2430.8h-2.9" stroke="#333" stroke-width="0.8"/><text x="1993.5" y="2433.3" font-size="7.0" text-anchor="end" fill="#222">0.85</text><path d="M1998.1 2412.6h-2.9" stroke="#333" stroke-width="0.8"/><text x="1993.5" y="2415.1" font-size="7.0" text-anchor="end" fill="#222">0.90</text><text x="2110.3" y="2408.6" font-size="7.8" text-anchor="middle" fill="#222">WHU-19</text><text x="2110.3" y="2577.3" font-size="7.0" text-anchor="middle" fill="#222">Scale Ratio to Raw Image</text><text x="1977.5" y="2485.4" font-size="7.0" text-anchor="middle" fill="#222" transform="rotate(-90 1977.5 2485.4)">KNN accuracy</text><clipPath id="cp1998"><rect x="1998.1" y="2412.6" width="224.5" height="145.7"/></clipPath><g clip-path="url(#cp1998)"><path d="M2008.5 2461.8 L2037.7 2449.4 L2096.0 2441.7 L2212.7 2444.3" fill="none" stroke="#3fa653" stroke-width="1.0"/><rect x="2006.2" y="2459.5" width="4.5" height="4.5" fill="#3fa653"/><rect x="2035.4" y="2447.1" width="4.5" height="4.5" fill="#3fa653"/><rect x="2093.8" y="2439.5" width="4.5" height="4.5" fill="#3fa653"/><rect x="2210.5" y="2442.0" width="4.5" height="4.5" fill="#3fa653"/><path d="M2008.5 2503.3 L2037.7 2492.7 L2096.0 2473.8 L2212.7 2471.2" fill="none" stroke="#ff5252" stroke-width="1.0" stroke-dasharray="1.0 2.0"/><circle cx="2008.5" cy="2503.3" r="2.5" fill="#ff5252"/><circle cx="2037.7" cy="2492.7" r="2.5" fill="#ff5252"/><circle cx="2096.0" cy="2473.8" r="2.5" fill="#ff5252"/><circle cx="2212.7" cy="2471.2" r="2.5" fill="#ff5252"/><path d="M2008.5 2541.5 L2037.7 2503.3 L2096.0 2431.2 L2212.7 2462.5" fill="none" stroke="#5555ff" stroke-width="1.0" stroke-dasharray="1.0 2.0"/><circle cx="2008.5" cy="2541.5" r="2.5" fill="#5555ff"/><circle cx="2037.7" cy="2503.3" r="2.5" fill="#5555ff"/><circle cx="2096.0" cy="2431.2" r="2.5" fill="#5555ff"/><circle cx="2212.7" cy="2462.5" r="2.5" fill="#5555ff"/></g><rect x="2160.0" y="2522.1" width="59.5" height="32.2" rx="1.5" fill="#fff" fill-opacity="0.85" stroke="#d0d0d0" stroke-width="0.8"/><path d="M2162.4 2528.3H2175.5" stroke="#3fa653" stroke-width="1.0"/><rect x="2166.7" y="2526.1" width="4.5" height="4.5" fill="#3fa653"/><text x="2182.2" y="2530.7" font-size="7.0" fill="#222">Cross-MAE</text><path d="M2162.4 2538.3H2175.5" stroke="#ff5252" stroke-width="1.0" stroke-dasharray="1.0 2.0"/><circle cx="2168.9" cy="2538.3" r="2.5" fill="#ff5252"/><text x="2182.2" y="2540.7" font-size="7.0" fill="#222">SatMAE</text><path d="M2162.4 2548.3H2175.5" stroke="#5555ff" stroke-width="1.0" stroke-dasharray="1.0 2.0"/><circle cx="2168.9" cy="2548.3" r="2.5" fill="#5555ff"/><text x="2182.2" y="2550.7" font-size="7.0" fill="#222">Scale-MAE</text></svg>
<svg style="left:0;top:0" width="1" height="1" font-family="'Liberation Sans',sans-serif" letter-spacing="0.00"><rect x="2263.6" y="2412.6" width="225.0" height="145.7" fill="#fff" stroke="#333" stroke-width="0.9"/><path d="M2291.5 2558.3v2.9" stroke="#333" stroke-width="0.8"/><text x="2291.5" y="2568.8" font-size="7.0" text-anchor="middle" fill="#222">0.2</text><path d="M2338.2 2558.3v2.9" stroke="#333" stroke-width="0.8"/><text x="2338.2" y="2568.8" font-size="7.0" text-anchor="middle" fill="#222">0.4</text><path d="M2384.9 2558.3v2.9" stroke="#333" stroke-width="0.8"/><text x="2384.9" y="2568.8" font-size="7.0" text-anchor="middle" fill="#222">0.6</text><path d="M2431.5 2558.3v2.9" stroke="#333" stroke-width="0.8"/><text x="2431.5" y="2568.8" font-size="7.0" text-anchor="middle" fill="#222">0.8</text><path d="M2478.2 2558.3v2.9" stroke="#333" stroke-width="0.8"/><text x="2478.2" y="2568.8" font-size="7.0" text-anchor="middle" fill="#222">1.0</text><path d="M2263.6 2558.3h-2.9" stroke="#333" stroke-width="0.8"/><text x="2259.0" y="2560.8" font-size="7.0" text-anchor="end" fill="#222">0.50</text><path d="M2263.6 2540.1h-2.9" stroke="#333" stroke-width="0.8"/><text x="2259.0" y="2542.6" font-size="7.0" text-anchor="end" fill="#222">0.55</text><path d="M2263.6 2521.9h-2.9" stroke="#333" stroke-width="0.8"/><text x="2259.0" y="2524.4" font-size="7.0" text-anchor="end" fill="#222">0.60</text><path d="M2263.6 2503.7h-2.9" stroke="#333" stroke-width="0.8"/><text x="2259.0" y="2506.2" font-size="7.0" text-anchor="end" fill="#222">0.65</text><path d="M2263.6 2485.5h-2.9" stroke="#333" stroke-width="0.8"/><text x="2259.0" y="2488.0" font-size="7.0" text-anchor="end" fill="#222">0.70</text><path d="M2263.6 2467.2h-2.9" stroke="#333" stroke-width="0.8"/><text x="2259.0" y="2469.8" font-size="7.0" text-anchor="end" fill="#222">0.75</text><path d="M2263.6 2449.0h-2.9" stroke="#333" stroke-width="0.8"/><text x="2259.0" y="2451.5" font-size="7.0" text-anchor="end" fill="#222">0.80</text><path d="M2263.6 2430.8h-2.9" stroke="#333" stroke-width="0.8"/><text x="2259.0" y="2433.3" font-size="7.0" text-anchor="end" fill="#222">0.85</text><path d="M2263.6 2412.6h-2.9" stroke="#333" stroke-width="0.8"/><text x="2259.0" y="2415.1" font-size="7.0" text-anchor="end" fill="#222">0.90</text><text x="2376.1" y="2408.6" font-size="7.8" text-anchor="middle" fill="#222">EuroSAT</text><text x="2376.1" y="2577.3" font-size="7.0" text-anchor="middle" fill="#222">Scale Ratio to Raw Image</text><text x="2243.0" y="2485.4" font-size="7.0" text-anchor="middle" fill="#222" transform="rotate(-90 2243.0 2485.4)">KNN accuracy</text><clipPath id="cp2263"><rect x="2263.6" y="2412.6" width="225.0" height="145.7"/></clipPath><g clip-path="url(#cp2263)"><path d="M2274.0 2443.6 L2303.2 2430.8 L2361.5 2416.2 L2478.2 2414.4" fill="none" stroke="#3fa653" stroke-width="1.0"/><rect x="2271.7" y="2441.3" width="4.5" height="4.5" fill="#3fa653"/><rect x="2300.9" y="2428.6" width="4.5" height="4.5" fill="#3fa653"/><rect x="2359.3" y="2414.0" width="4.5" height="4.5" fill="#3fa653"/><rect x="2476.0" y="2412.2" width="4.5" height="4.5" fill="#3fa653"/><path d="M2274.0 2483.3 L2303.2 2469.4 L2361.5 2416.2 L2478.2 2416.2" fill="none" stroke="#ff5252" stroke-width="1.0" stroke-dasharray="1.0 2.0"/><circle cx="2274.0" cy="2483.3" r="2.5" fill="#ff5252"/><circle cx="2303.2" cy="2469.4" r="2.5" fill="#ff5252"/><circle cx="2361.5" cy="2416.2" r="2.5" fill="#ff5252"/><circle cx="2478.2" cy="2416.2" r="2.5" fill="#ff5252"/><path d="M2274.0 2549.6 L2303.2 2482.5 L2361.5 2461.0 L2478.2 2440.3" fill="none" stroke="#5555ff" stroke-width="1.0" stroke-dasharray="1.0 2.0"/><circle cx="2274.0" cy="2549.6" r="2.5" fill="#5555ff"/><circle cx="2303.2" cy="2482.5" r="2.5" fill="#5555ff"/><circle cx="2361.5" cy="2461.0" r="2.5" fill="#5555ff"/><circle cx="2478.2" cy="2440.3" r="2.5" fill="#5555ff"/></g><rect x="2425.5" y="2522.1" width="59.5" height="32.2" rx="1.5" fill="#fff" fill-opacity="0.85" stroke="#d0d0d0" stroke-width="0.8"/><path d="M2427.9 2528.3H2441.0" stroke="#3fa653" stroke-width="1.0"/><rect x="2432.2" y="2526.1" width="4.5" height="4.5" fill="#3fa653"/><text x="2447.7" y="2530.7" font-size="7.0" fill="#222">Cross-MAE</text><path d="M2427.9 2538.3H2441.0" stroke="#ff5252" stroke-width="1.0" stroke-dasharray="1.0 2.0"/><circle cx="2434.4" cy="2538.3" r="2.5" fill="#ff5252"/><text x="2447.7" y="2540.7" font-size="7.0" fill="#222">SatMAE</text><path d="M2427.9 2548.3H2441.0" stroke="#5555ff" stroke-width="1.0" stroke-dasharray="1.0 2.0"/><circle cx="2434.4" cy="2548.3" r="2.5" fill="#5555ff"/><text x="2447.7" y="2550.7" font-size="7.0" fill="#222">Scale-MAE</text></svg>
<svg style="left:0;top:0" width="1" height="1" font-family="'Liberation Sans',sans-serif" letter-spacing="0.42"><rect x="2899.5" y="1950.0" width="369.1" height="275.2" fill="#fff" stroke="#333" stroke-width="0.9"/><path d="M2939.0 2225.2v4.3" stroke="#333" stroke-width="0.8"/><text x="2939.0" y="2240.7" font-size="10.2" text-anchor="middle" fill="#222">0.3</text><path d="M2983.7 2225.2v4.3" stroke="#333" stroke-width="0.8"/><text x="2983.7" y="2240.7" font-size="10.2" text-anchor="middle" fill="#222">0.4</text><path d="M3028.4 2225.2v4.3" stroke="#333" stroke-width="0.8"/><text x="3028.4" y="2240.7" font-size="10.2" text-anchor="middle" fill="#222">0.5</text><path d="M3073.1 2225.2v4.3" stroke="#333" stroke-width="0.8"/><text x="3073.1" y="2240.7" font-size="10.2" text-anchor="middle" fill="#222">0.6</text><path d="M3117.8 2225.2v4.3" stroke="#333" stroke-width="0.8"/><text x="3117.8" y="2240.7" font-size="10.2" text-anchor="middle" fill="#222">0.7</text><path d="M3162.5 2225.2v4.3" stroke="#333" stroke-width="0.8"/><text x="3162.5" y="2240.7" font-size="10.2" text-anchor="middle" fill="#222">0.8</text><path d="M3207.2 2225.2v4.3" stroke="#333" stroke-width="0.8"/><text x="3207.2" y="2240.7" font-size="10.2" text-anchor="middle" fill="#222">0.9</text><path d="M3251.9 2225.2v4.3" stroke="#333" stroke-width="0.8"/><text x="3251.9" y="2240.7" font-size="10.2" text-anchor="middle" fill="#222">1.0</text><path d="M2899.5 2219.0h-4.3" stroke="#333" stroke-width="0.8"/><text x="2893.5" y="2222.7" font-size="10.2" text-anchor="end" fill="#222">0.66</text><path d="M2899.5 2180.6h-4.3" stroke="#333" stroke-width="0.8"/><text x="2893.5" y="2184.3" font-size="10.2" text-anchor="end" fill="#222">0.68</text><path d="M2899.5 2142.2h-4.3" stroke="#333" stroke-width="0.8"/><text x="2893.5" y="2145.9" font-size="10.2" text-anchor="end" fill="#222">0.70</text><path d="M2899.5 2103.8h-4.3" stroke="#333" stroke-width="0.8"/><text x="2893.5" y="2107.5" font-size="10.2" text-anchor="end" fill="#222">0.72</text><path d="M2899.5 2065.4h-4.3" stroke="#333" stroke-width="0.8"/><text x="2893.5" y="2069.1" font-size="10.2" text-anchor="end" fill="#222">0.74</text><path d="M2899.5 2027.0h-4.3" stroke="#333" stroke-width="0.8"/><text x="2893.5" y="2030.7" font-size="10.2" text-anchor="end" fill="#222">0.76</text><path d="M2899.5 1988.6h-4.3" stroke="#333" stroke-width="0.8"/><text x="2893.5" y="1992.3" font-size="10.2" text-anchor="end" fill="#222">0.78</text><text x="3084.1" y="2255.4" font-size="10.2" text-anchor="middle" fill="#222">Scale Ratio to Raw Image</text><text x="2862.5" y="2087.6" font-size="10.2" text-anchor="middle" fill="#222" transform="rotate(-90 2862.5 2087.6)">KNN accuracy</text><clipPath id="cp2899"><rect x="2899.5" y="1950.0" width="369.1" height="275.2"/></clipPath><g clip-path="url(#cp2899)"><path d="M2916.7 2101.9 L3028.4 1975.2 L3140.2 2005.9 L3251.9 1963.6" fill="none" stroke="#55a855" stroke-width="1.35"/><rect x="2913.8" y="2099.0" width="5.8" height="5.8" fill="#55a855"/><rect x="3025.5" y="1972.3" width="5.8" height="5.8" fill="#55a855"/><rect x="3137.3" y="2003.0" width="5.8" height="5.8" fill="#55a855"/><rect x="3249.0" y="1960.8" width="5.8" height="5.8" fill="#55a855"/><path d="M2916.7 2213.2 L3028.4 2100.0 L3140.2 2071.2 L3251.9 2061.6" fill="none" stroke="#f05050" stroke-width="1.35" stroke-dasharray="1.4 2.7"/><circle cx="2916.7" cy="2213.2" r="3.2" fill="#f05050"/><circle cx="3028.4" cy="2100.0" r="3.2" fill="#f05050"/><circle cx="3140.2" cy="2071.2" r="3.2" fill="#f05050"/><circle cx="3251.9" cy="2061.6" r="3.2" fill="#f05050"/></g><rect x="3118.6" y="2185.7" width="145.2" height="34.3" rx="1.5" fill="#fff" fill-opacity="0.85" stroke="#d0d0d0" stroke-width="0.8"/><path d="M3122.4 2195.3H3143.8" stroke="#55a855" stroke-width="1.35"/><rect x="3130.2" y="2192.5" width="5.8" height="5.8" fill="#55a855"/><text x="3150.5" y="2198.8" font-size="10.2" fill="#222">Cross-MAE-w/o GSDP</text><path d="M3122.4 2211.0H3143.8" stroke="#f05050" stroke-width="1.35" stroke-dasharray="1.4 2.7"/><circle cx="3133.1" cy="2211.0" r="3.2" fill="#f05050"/><text x="3150.5" y="2214.5" font-size="10.2" fill="#222">Cross-MAE-w/ GSDP</text></svg>
<svg style="left:0;top:0" width="1" height="1" font-family="'Liberation Sans',sans-serif" letter-spacing="0.42"><rect x="3395.7" y="1950.0" width="369.1" height="275.2" fill="#fff" stroke="#333" stroke-width="0.9"/><path d="M3435.2 2225.2v4.3" stroke="#333" stroke-width="0.8"/><text x="3435.2" y="2240.7" font-size="10.2" text-anchor="middle" fill="#222">0.3</text><path d="M3479.9 2225.2v4.3" stroke="#333" stroke-width="0.8"/><text x="3479.9" y="2240.7" font-size="10.2" text-anchor="middle" fill="#222">0.4</text><path d="M3524.6 2225.2v4.3" stroke="#333" stroke-width="0.8"/><text x="3524.6" y="2240.7" font-size="10.2" text-anchor="middle" fill="#222">0.5</text><path d="M3569.3 2225.2v4.3" stroke="#333" stroke-width="0.8"/><text x="3569.3" y="2240.7" font-size="10.2" text-anchor="middle" fill="#222">0.6</text><path d="M3614.0 2225.2v4.3" stroke="#333" stroke-width="0.8"/><text x="3614.0" y="2240.7" font-size="10.2" text-anchor="middle" fill="#222">0.7</text><path d="M3658.7 2225.2v4.3" stroke="#333" stroke-width="0.8"/><text x="3658.7" y="2240.7" font-size="10.2" text-anchor="middle" fill="#222">0.8</text><path d="M3703.4 2225.2v4.3" stroke="#333" stroke-width="0.8"/><text x="3703.4" y="2240.7" font-size="10.2" text-anchor="middle" fill="#222">0.9</text><path d="M3748.1 2225.2v4.3" stroke="#333" stroke-width="0.8"/><text x="3748.1" y="2240.7" font-size="10.2" text-anchor="middle" fill="#222">1.0</text><path d="M3395.7 2192.9h-4.3" stroke="#333" stroke-width="0.8"/><text x="3389.7" y="2196.6" font-size="10.2" text-anchor="end" fill="#222">0.52</text><path d="M3395.7 2147.8h-4.3" stroke="#333" stroke-width="0.8"/><text x="3389.7" y="2151.5" font-size="10.2" text-anchor="end" fill="#222">0.54</text><path d="M3395.7 2102.8h-4.3" stroke="#333" stroke-width="0.8"/><text x="3389.7" y="2106.5" font-size="10.2" text-anchor="end" fill="#222">0.56</text><path d="M3395.7 2057.7h-4.3" stroke="#333" stroke-width="0.8"/><text x="3389.7" y="2061.4" font-size="10.2" text-anchor="end" fill="#222">0.58</text><path d="M3395.7 2012.7h-4.3" stroke="#333" stroke-width="0.8"/><text x="3389.7" y="2016.3" font-size="10.2" text-anchor="end" fill="#222">0.60</text><path d="M3395.7 1967.6h-4.3" stroke="#333" stroke-width="0.8"/><text x="3389.7" y="1971.3" font-size="10.2" text-anchor="end" fill="#222">0.62</text><text x="3580.2" y="2255.4" font-size="10.2" text-anchor="middle" fill="#222">Scale Ratio to Raw Image</text><text x="3358.7" y="2087.6" font-size="10.2" text-anchor="middle" fill="#222" transform="rotate(-90 3358.7 2087.6)">KNN accuracy</text><clipPath id="cp3395"><rect x="3395.7" y="1950.0" width="369.1" height="275.2"/></clipPath><g clip-path="url(#cp3395)"><path d="M3412.8 2213.2 L3524.6 2190.6 L3636.3 2098.3 L3748.1 2051.0" fill="none" stroke="#55a855" stroke-width="1.35"/><rect x="3410.0" y="2210.3" width="5.8" height="5.8" fill="#55a855"/><rect x="3521.7" y="2187.8" width="5.8" height="5.8" fill="#55a855"/><rect x="3633.5" y="2095.4" width="5.8" height="5.8" fill="#55a855"/><rect x="3745.2" y="2048.1" width="5.8" height="5.8" fill="#55a855"/><path d="M3412.8 2163.6 L3524.6 2116.3 L3636.3 2078.0 L3748.1 2060.0" fill="none" stroke="#f05050" stroke-width="1.35" stroke-dasharray="1.4 2.7"/><circle cx="3412.8" cy="2163.6" r="3.2" fill="#f05050"/><circle cx="3524.6" cy="2116.3" r="3.2" fill="#f05050"/><circle cx="3636.3" cy="2078.0" r="3.2" fill="#f05050"/><circle cx="3748.1" cy="2060.0" r="3.2" fill="#f05050"/><path d="M3412.8 2120.8 L3524.6 2051.0 L3636.3 1967.6 L3748.1 1963.1" fill="none" stroke="#5555f5" stroke-width="1.35" stroke-dasharray="1.4 2.7"/><circle cx="3412.8" cy="2120.8" r="3.2" fill="#5555f5"/><circle cx="3524.6" cy="2051.0" r="3.2" fill="#5555f5"/><circle cx="3636.3" cy="1967.6" r="3.2" fill="#5555f5"/><circle cx="3748.1" cy="1963.1" r="3.2" fill="#5555f5"/></g><rect x="3401.0" y="1955.7" width="156.0" height="50.0" rx="1.5" fill="#fff" fill-opacity="0.85" stroke="#d0d0d0" stroke-width="0.8"/><path d="M3405.0 1964.7H3427.0" stroke="#55a855" stroke-width="1.35"/><rect x="3413.1" y="1961.9" width="5.8" height="5.8" fill="#55a855"/><text x="3434.3" y="1968.2" font-size="10.2" fill="#222">Sat-MAE</text><path d="M3405.0 1980.5H3427.0" stroke="#f05050" stroke-width="1.35" stroke-dasharray="1.4 2.7"/><circle cx="3416.0" cy="1980.5" r="3.2" fill="#f05050"/><text x="3434.3" y="1984.0" font-size="10.2" fill="#222">Sat-MAE-w/ GSDP</text><path d="M3405.0 1996.2H3427.0" stroke="#5555f5" stroke-width="1.35" stroke-dasharray="1.4 2.7"/><circle cx="3416.0" cy="1996.2" r="3.2" fill="#5555f5"/><text x="3434.3" y="1999.7" font-size="10.2" fill="#222">Sat-MAE-w/ Multi-Scale</text></svg>
<svg style="left:0;top:0" width="1" height="1"><defs><filter id="goo" x="-5%" y="-5%" width="110%" height="110%"><feGaussianBlur in="SourceGraphic" stdDeviation="1.25" result="b"/><feColorMatrix in="b" mode="matrix" values="1 0 0 0 0  0 1 0 0 0  0 0 1 0 0  0 0 0 7 -2.6"/></filter></defs><g filter="url(#goo)"><ellipse cx="3431.8" cy="90.2" rx="7.5" ry="10.0" fill="#68448b" transform="rotate(-15 3431.8 90.2)"/><ellipse cx="3383.7" cy="106.8" rx="8.6" ry="10.3" fill="#68448b" transform="rotate(-25 3383.7 106.8)"/><ellipse cx="3350.6" cy="138.8" rx="9.6" ry="8.6" fill="#68448b" transform="rotate(20 3350.6 138.8)"/><ellipse cx="3349.3" cy="163.7" rx="9.6" ry="7.8" fill="#68448b" transform="rotate(15 3349.3 163.7)"/><ellipse cx="3416.6" cy="121.1" rx="6.0" ry="7.5" fill="#68448b" transform="rotate(-20 3416.6 121.1)"/><ellipse cx="3377.9" cy="151.3" rx="7.5" ry="6.6" fill="#68448b" transform="rotate(10 3377.9 151.3)"/><ellipse cx="3415.3" cy="149.3" rx="5.3" ry="5.8" fill="#68448b"/><ellipse cx="3455.6" cy="113.4" rx="5.5" ry="7.5" fill="#68448b" transform="rotate(-10 3455.6 113.4)"/><ellipse cx="3472.8" cy="115.6" rx="4.6" ry="6.6" fill="#68448b"/><ellipse cx="3475.8" cy="94.9" rx="6.0" ry="9.0" fill="#68448b" transform="rotate(-10 3475.8 94.9)"/><ellipse cx="3487.9" cy="121.7" rx="4.0" ry="5.8" fill="#68448b" transform="rotate(10 3487.9 121.7)"/><ellipse cx="3508.5" cy="114.8" rx="4.3" ry="6.6" fill="#68448b" transform="rotate(10 3508.5 114.8)"/><ellipse cx="3442.3" cy="134.7" rx="4.6" ry="5.6" fill="#68448b" transform="rotate(-15 3442.3 134.7)"/><ellipse cx="3470.8" cy="131.0" rx="3.8" ry="4.6" fill="#68448b"/><ellipse cx="3529.2" cy="138.3" rx="3.0" ry="4.6" fill="#68448b" transform="rotate(15 3529.2 138.3)"/><ellipse cx="3536.0" cy="146.6" rx="1.8" ry="3.0" fill="#68448b" transform="rotate(20 3536.0 146.6)"/><ellipse cx="3407.8" cy="94.9" rx="8.0" ry="8.0" fill="#68448b"/><ellipse cx="3454.2" cy="89.6" rx="7.0" ry="8.6" fill="#68448b"/><ellipse cx="3456.7" cy="130.5" rx="4.1" ry="4.1" fill="#68448b"/><ellipse cx="3361.4" cy="118.1" rx="8.3" ry="7.5" fill="#68448b" transform="rotate(15 3361.4 118.1)"/><ellipse cx="3429.4" cy="140.5" rx="4.6" ry="4.6" fill="#68448b"/><ellipse cx="3398.7" cy="162.0" rx="5.3" ry="5.3" fill="#68448b"/><ellipse cx="3494.0" cy="103.2" rx="5.0" ry="7.0" fill="#68448b" transform="rotate(-5 3494.0 103.2)"/><ellipse cx="3519.7" cy="127.2" rx="3.6" ry="5.0" fill="#68448b" transform="rotate(10 3519.7 127.2)"/><path d="M3407.8 94.9 C3414.4 106.5 3424.4 111.5 3434.3 109.5 C3445.9 107.3 3449.3 99.9 3454.2 89.6" fill="none" stroke="#68448b" stroke-width="9.9" stroke-linecap="round" stroke-linejoin="round"/><path d="M3434.3 109.5 C3441.0 118.1 3445.9 125.6 3456.7 130.5" fill="none" stroke="#68448b" stroke-width="8.6" stroke-linecap="round" stroke-linejoin="round"/><path d="M3361.4 118.1 C3373.0 124.7 3386.2 125.6 3397.8 123.9 C3406.1 129.7 3416.1 136.3 3429.4 140.5" fill="none" stroke="#68448b" stroke-width="10.3" stroke-linecap="round" stroke-linejoin="round"/><path d="M3397.8 125.6 C3399.5 139.7 3397.8 149.6 3398.7 162.0" fill="none" stroke="#68448b" stroke-width="9.5" stroke-linecap="round" stroke-linejoin="round"/><path d="M3494.0 103.2 C3495.7 113.1 3498.2 123.1 3499.8 131.7" fill="none" stroke="#68448b" stroke-width="7.3" stroke-linecap="round" stroke-linejoin="round"/><path d="M3498.2 124.7 C3505.6 129.7 3512.3 128.9 3519.7 127.2" fill="none" stroke="#68448b" stroke-width="7.3" stroke-linecap="round" stroke-linejoin="round"/></g><g filter="url(#goo)"><ellipse cx="3334.8" cy="142.1" rx="3.0" ry="1.8" fill="#9470a8" transform="rotate(-15 3334.8 142.1)"/><ellipse cx="3331.0" cy="152.1" rx="5.0" ry="3.0" fill="#9470a8" transform="rotate(-15 3331.0 152.1)"/><ellipse cx="3320.4" cy="181.9" rx="6.3" ry="4.5" fill="#9470a8" transform="rotate(-20 3320.4 181.9)"/><ellipse cx="3336.5" cy="196.4" rx="5.3" ry="4.0" fill="#9470a8" transform="rotate(-20 3336.5 196.4)"/><ellipse cx="3353.1" cy="206.8" rx="4.5" ry="3.6" fill="#9470a8" transform="rotate(-20 3353.1 206.8)"/><ellipse cx="3338.5" cy="212.3" rx="5.8" ry="5.0" fill="#9470a8" transform="rotate(-20 3338.5 212.3)"/><ellipse cx="3319.1" cy="219.8" rx="8.3" ry="6.6" fill="#9470a8" transform="rotate(-25 3319.1 219.8)"/><ellipse cx="3344.8" cy="228.7" rx="6.6" ry="5.8" fill="#9470a8" transform="rotate(-20 3344.8 228.7)"/><ellipse cx="3370.0" cy="230.0" rx="5.0" ry="5.0" fill="#9470a8"/><ellipse cx="3396.2" cy="246.3" rx="5.0" ry="5.5" fill="#9470a8" transform="rotate(15 3396.2 246.3)"/><ellipse cx="3371.6" cy="257.4" rx="6.6" ry="6.6" fill="#9470a8" transform="rotate(-30 3371.6 257.4)"/><ellipse cx="3336.5" cy="260.7" rx="8.6" ry="9.1" fill="#9470a8" transform="rotate(30 3336.5 260.7)"/><ellipse cx="3416.1" cy="277.8" rx="6.3" ry="8.0" fill="#9470a8"/><ellipse cx="3374.1" cy="294.4" rx="8.3" ry="10.8" fill="#9470a8" transform="rotate(20 3374.1 294.4)"/><ellipse cx="3440.6" cy="296.9" rx="7.5" ry="10.3" fill="#9470a8"/><ellipse cx="3418.1" cy="308.3" rx="7.8" ry="10.4" fill="#9470a8" transform="rotate(10 3418.1 308.3)"/><ellipse cx="3327.4" cy="165.4" rx="5.3" ry="4.1" fill="#9470a8" transform="rotate(-10 3327.4 165.4)"/><ellipse cx="3315.8" cy="201.0" rx="5.8" ry="4.6" fill="#9470a8" transform="rotate(-20 3315.8 201.0)"/><ellipse cx="3324.0" cy="240.8" rx="7.5" ry="7.5" fill="#9470a8"/><ellipse cx="3359.7" cy="218.4" rx="4.6" ry="4.3" fill="#9470a8"/><ellipse cx="3353.1" cy="279.0" rx="8.3" ry="10.0" fill="#9470a8" transform="rotate(15 3353.1 279.0)"/><ellipse cx="3382.1" cy="240.8" rx="5.0" ry="5.0" fill="#9470a8"/><ellipse cx="3414.4" cy="254.1" rx="5.8" ry="5.5" fill="#9470a8"/><ellipse cx="3395.4" cy="305.5" rx="8.0" ry="10.3" fill="#9470a8" transform="rotate(10 3395.4 305.5)"/><path d="M3327.4 165.4 C3333.2 172.8 3335.7 177.8 3338.5 180.8 C3333.2 186.1 3324.9 192.7 3315.8 201.0" fill="none" stroke="#9470a8" stroke-width="7.3" stroke-linecap="round" stroke-linejoin="round"/><path d="M3324.0 240.8 C3336.5 239.2 3348.1 241.6 3357.2 243.3 C3358.0 234.2 3358.9 225.9 3359.7 218.4" fill="none" stroke="#9470a8" stroke-width="9.5" stroke-linecap="round" stroke-linejoin="round"/><path d="M3357.2 243.3 C3357.2 255.7 3355.6 267.3 3353.1 279.0" fill="none" stroke="#9470a8" stroke-width="8.6" stroke-linecap="round" stroke-linejoin="round"/><path d="M3382.1 240.8 C3382.1 250.8 3386.2 259.1 3390.4 263.2 C3399.5 262.4 3407.8 258.2 3414.4 254.1" fill="none" stroke="#9470a8" stroke-width="8.2" stroke-linecap="round" stroke-linejoin="round"/><path d="M3390.4 263.2 C3382.9 274.0 3386.2 283.9 3392.0 292.2 L3395.4 305.5" fill="none" stroke="#9470a8" stroke-width="10.8" stroke-linecap="round" stroke-linejoin="round"/></g></svg>
<div style="position:absolute;left:14.9px;top:2521.7px;width:104.7px;height:103.5px;background:#f58220"></div>
<svg style="left:0;top:0" width="1" height="1"><path d="M27.4 2534.2H106.5V2561Q100 2552.5 92 2551.6Q80.5 2551.8 78 2560V2592Q78.5 2599.5 88.4 2600.5V2612.4H46.1V2600.5Q56 2599.5 56.5 2592V2560Q54 2551.8 42 2551.6Q34 2552.5 27.4 2561Z" fill="#fff"/></svg>
<svg style="left:0;top:0" width="1" height="1" shape-rendering="crispEdges"><path d="M3689.10 2372.10h61.89v8.97h-61.89zM3768.48 2372.10h8.97v8.97h-8.97zM3812.58 2372.10h8.97v8.97h-8.97zM3830.22 2372.10h8.97v8.97h-8.97zM3847.86 2372.10h61.89v8.97h-61.89zM3689.10 2380.92h8.97v8.97h-8.97zM3742.02 2380.92h8.97v8.97h-8.97zM3759.66 2380.92h17.79v8.97h-17.79zM3786.12 2380.92h44.25v8.97h-44.25zM3847.86 2380.92h8.97v8.97h-8.97zM3900.78 2380.92h8.97v8.97h-8.97zM3689.10 2389.74h8.97v8.97h-8.97zM3706.74 2389.74h26.61v8.97h-26.61zM3742.02 2389.74h8.97v8.97h-8.97zM3768.48 2389.74h26.61v8.97h-26.61zM3803.76 2389.74h8.97v8.97h-8.97zM3830.22 2389.74h8.97v8.97h-8.97zM3847.86 2389.74h8.97v8.97h-8.97zM3865.50 2389.74h26.61v8.97h-26.61zM3900.78 2389.74h8.97v8.97h-8.97zM3689.10 2398.56h8.97v8.97h-8.97zM3706.74 2398.56h26.61v8.97h-26.61zM3742.02 2398.56h8.97v8.97h-8.97zM3759.66 2398.56h17.79v8.97h-17.79zM3786.12 2398.56h8.97v8.97h-8.97zM3812.58 2398.56h26.61v8.97h-26.61zM3847.86 2398.56h8.97v8.97h-8.97zM3865.50 2398.56h26.61v8.97h-26.61zM3900.78 2398.56h8.97v8.97h-8.97zM3689.10 2407.38h8.97v8.97h-8.97zM3706.74 2407.38h26.61v8.97h-26.61zM3742.02 2407.38h8.97v8.97h-8.97zM3777.30 2407.38h8.97v8.97h-8.97zM3794.94 2407.38h8.97v8.97h-8.97zM3830.22 2407.38h8.97v8.97h-8.97zM3847.86 2407.38h8.97v8.97h-8.97zM3865.50 2407.38h26.61v8.97h-26.61zM3900.78 2407.38h8.97v8.97h-8.97zM3689.10 2416.20h8.97v8.97h-8.97zM3742.02 2416.20h8.97v8.97h-8.97zM3759.66 2416.20h8.97v8.97h-8.97zM3777.30 2416.20h8.97v8.97h-8.97zM3803.76 2416.20h17.79v8.97h-17.79zM3847.86 2416.20h8.97v8.97h-8.97zM3900.78 2416.20h8.97v8.97h-8.97zM3689.10 2425.02h61.89v8.97h-61.89zM3759.66 2425.02h8.97v8.97h-8.97zM3777.30 2425.02h8.97v8.97h-8.97zM3794.94 2425.02h8.97v8.97h-8.97zM3812.58 2425.02h8.97v8.97h-8.97zM3830.22 2425.02h8.97v8.97h-8.97zM3847.86 2425.02h61.89v8.97h-61.89zM3794.94 2433.84h8.97v8.97h-8.97zM3830.22 2433.84h8.97v8.97h-8.97zM3689.10 2442.66h44.25v8.97h-44.25zM3742.02 2442.66h44.25v8.97h-44.25zM3794.94 2442.66h8.97v8.97h-8.97zM3812.58 2442.66h35.43v8.97h-35.43zM3856.68 2442.66h8.97v8.97h-8.97zM3874.32 2442.66h8.97v8.97h-8.97zM3891.96 2442.66h8.97v8.97h-8.97zM3689.10 2451.48h53.07v8.97h-53.07zM3750.84 2451.48h8.97v8.97h-8.97zM3768.48 2451.48h8.97v8.97h-8.97zM3812.58 2451.48h8.97v8.97h-8.97zM3830.22 2451.48h17.79v8.97h-17.79zM3856.68 2451.48h17.79v8.97h-17.79zM3900.78 2451.48h8.97v8.97h-8.97zM3689.10 2460.30h8.97v8.97h-8.97zM3706.74 2460.30h8.97v8.97h-8.97zM3724.38 2460.30h26.61v8.97h-26.61zM3768.48 2460.30h8.97v8.97h-8.97zM3786.12 2460.30h26.61v8.97h-26.61zM3839.04 2460.30h17.79v8.97h-17.79zM3865.50 2460.30h8.97v8.97h-8.97zM3883.14 2460.30h8.97v8.97h-8.97zM3689.10 2469.12h8.97v8.97h-8.97zM3706.74 2469.12h8.97v8.97h-8.97zM3724.38 2469.12h8.97v8.97h-8.97zM3759.66 2469.12h35.43v8.97h-35.43zM3803.76 2469.12h8.97v8.97h-8.97zM3830.22 2469.12h17.79v8.97h-17.79zM3697.92 2477.94h17.79v8.97h-17.79zM3724.38 2477.94h26.61v8.97h-26.61zM3768.48 2477.94h8.97v8.97h-8.97zM3786.12 2477.94h8.97v8.97h-8.97zM3803.76 2477.94h79.53v8.97h-79.53zM3891.96 2477.94h17.79v8.97h-17.79zM3689.10 2486.76h8.97v8.97h-8.97zM3706.74 2486.76h17.79v8.97h-17.79zM3750.84 2486.76h35.43v8.97h-35.43zM3794.94 2486.76h8.97v8.97h-8.97zM3830.22 2486.76h17.79v8.97h-17.79zM3856.68 2486.76h17.79v8.97h-17.79zM3689.10 2495.58h8.97v8.97h-8.97zM3706.74 2495.58h26.61v8.97h-26.61zM3742.02 2495.58h8.97v8.97h-8.97zM3759.66 2495.58h17.79v8.97h-17.79zM3803.76 2495.58h26.61v8.97h-26.61zM3839.04 2495.58h17.79v8.97h-17.79zM3865.50 2495.58h8.97v8.97h-8.97zM3883.14 2495.58h26.61v8.97h-26.61zM3689.10 2504.40h8.97v8.97h-8.97zM3724.38 2504.40h8.97v8.97h-8.97zM3759.66 2504.40h17.79v8.97h-17.79zM3794.94 2504.40h8.97v8.97h-8.97zM3830.22 2504.40h17.79v8.97h-17.79zM3891.96 2504.40h17.79v8.97h-17.79zM3689.10 2513.22h8.97v8.97h-8.97zM3706.74 2513.22h8.97v8.97h-8.97zM3733.20 2513.22h53.07v8.97h-53.07zM3794.94 2513.22h17.79v8.97h-17.79zM3821.40 2513.22h61.89v8.97h-61.89zM3900.78 2513.22h8.97v8.97h-8.97zM3759.66 2522.04h8.97v8.97h-8.97zM3812.58 2522.04h26.61v8.97h-26.61zM3865.50 2522.04h8.97v8.97h-8.97zM3900.78 2522.04h8.97v8.97h-8.97zM3689.10 2530.86h61.89v8.97h-61.89zM3759.66 2530.86h17.79v8.97h-17.79zM3786.12 2530.86h35.43v8.97h-35.43zM3830.22 2530.86h8.97v8.97h-8.97zM3847.86 2530.86h8.97v8.97h-8.97zM3865.50 2530.86h8.97v8.97h-8.97zM3883.14 2530.86h26.61v8.97h-26.61zM3689.10 2539.68h8.97v8.97h-8.97zM3742.02 2539.68h8.97v8.97h-8.97zM3768.48 2539.68h26.61v8.97h-26.61zM3803.76 2539.68h8.97v8.97h-8.97zM3830.22 2539.68h8.97v8.97h-8.97zM3865.50 2539.68h17.79v8.97h-17.79zM3689.10 2548.50h8.97v8.97h-8.97zM3706.74 2548.50h26.61v8.97h-26.61zM3742.02 2548.50h8.97v8.97h-8.97zM3759.66 2548.50h17.79v8.97h-17.79zM3786.12 2548.50h35.43v8.97h-35.43zM3830.22 2548.50h53.07v8.97h-53.07zM3689.10 2557.32h8.97v8.97h-8.97zM3706.74 2557.32h26.61v8.97h-26.61zM3742.02 2557.32h8.97v8.97h-8.97zM3759.66 2557.32h17.79v8.97h-17.79zM3794.94 2557.32h8.97v8.97h-8.97zM3812.58 2557.32h44.25v8.97h-44.25zM3865.50 2557.32h8.97v8.97h-8.97zM3891.96 2557.32h17.79v8.97h-17.79zM3689.10 2566.14h8.97v8.97h-8.97zM3706.74 2566.14h26.61v8.97h-26.61zM3742.02 2566.14h8.97v8.97h-8.97zM3759.66 2566.14h8.97v8.97h-8.97zM3777.30 2566.14h8.97v8.97h-8.97zM3794.94 2566.14h35.43v8.97h-35.43zM3839.04 2566.14h8.97v8.97h-8.97zM3865.50 2566.14h8.97v8.97h-8.97zM3883.14 2566.14h8.97v8.97h-8.97zM3900.78 2566.14h8.97v8.97h-8.97zM3689.10 2574.96h8.97v8.97h-8.97zM3742.02 2574.96h8.97v8.97h-8.97zM3759.66 2574.96h8.97v8.97h-8.97zM3777.30 2574.96h8.97v8.97h-8.97zM3794.94 2574.96h17.79v8.97h-17.79zM3830.22 2574.96h53.07v8.97h-53.07zM3891.96 2574.96h8.97v8.97h-8.97zM3689.10 2583.78h61.89v8.97h-61.89zM3759.66 2583.78h17.79v8.97h-17.79zM3812.58 2583.78h8.97v8.97h-8.97zM3839.04 2583.78h8.97v8.97h-8.97zM3883.14 2583.78h26.61v8.97h-26.61z" fill="#000"/></svg>
<div class="t s" style="left:104.00px;top:91.81px;font-size:84.29px;font-weight:bold;color:#68448b;">Cross-Scale MAE: A Tale of Multi-Scale Exploitation in Remote Sensing</div>
<div class="t s" style="left:110.00px;top:220.23px;font-size:32.32px;font-weight:bold;color:#68448b;">Maofeng Tang<span style="font-size:.6em;position:relative;top:-.55em">1</span>, Andrei Cozma<span style="font-size:.6em;position:relative;top:-.55em">1</span>,  Konstantinos Georgiou<span style="font-size:.6em;position:relative;top:-.55em">1</span>, Hairong Qi<span style="font-size:.6em;position:relative;top:-.55em">1</span></div>
<div class="t s" style="left:105.00px;top:272.01px;font-size:30.69px;color:#68448b;"><span style="font-size:.6em;position:relative;top:-.55em">1</span>The University of Tennessee, Knoxville, TN, USA, 37996</div>
<div class="t s" style="left:121.00px;top:352.87px;font-size:51.56px;font-weight:bold;">Summary</div>
<div class="t s" style="left:158.50px;top:434.32px;font-size:28.98px;font-weight:bold;">Motivations</div>
<div class="t s" style="left:117.00px;top:476.70px;font-size:32.00px;color:#34495a;word-spacing:3.835px;">Remote sensing images present unique challenges to image analysis due</div>
<div class="t s" style="left:117.00px;top:522.90px;font-size:32.00px;color:#34495a;word-spacing:1.427px;">to the extensive geographic coverage, hardware limitations, and misaligned</div>
<div class="t s" style="left:117.00px;top:569.10px;font-size:32.00px;color:#34495a;">multi-scale images.</div>
<div class="t s" style="left:117.00px;top:615.30px;font-size:32.00px;color:#34495a;word-spacing:1.668px;">This paper revisits the classical multi-scale representation learning problem</div>
<div class="t s" style="left:117.00px;top:661.50px;font-size:32.00px;color:#34495a;word-spacing:8.786px;">but under the general framework of self-supervised learning for remote</div>
<div class="t s" style="left:117.00px;top:707.70px;font-size:32.00px;color:#34495a;">sensing image understanding.</div>
<div class="t s" style="left:117.00px;top:800.10px;font-size:32.00px;color:#34495a;word-spacing:10.833px;">We present Cross-Scale MAE, a self-supervised model built upon the</div>
<div class="t s" style="left:117.00px;top:846.30px;font-size:32.00px;color:#34495a;word-spacing:17.007px;">Masked Auto-Encoder (MAE). During pre-training, Cross-Scale <span style="display:inline-block;width:9.2px"></span>MAE</div>
<div class="t s" style="left:117.00px;top:892.50px;font-size:32.00px;color:#34495a;word-spacing:21.760px;">employs scale <span style="display:inline-block;width:14.3px"></span>augmentation techniques and enforces cross-scale</div>
<div class="t s" style="left:117.00px;top:938.70px;font-size:32.00px;color:#34495a;word-spacing:3.875px;">consistency constraints through both contrastive and generative losses, to</div>
<div class="t s" style="left:117.00px;top:984.90px;font-size:32.00px;color:#34495a;word-spacing:7.877px;">ensure consistent and meaningful representations well-suited for a wide</div>
<div class="t s" style="left:117.00px;top:1031.10px;font-size:32.00px;color:#34495a;">range of downstream tasks.</div>
<div class="t s" style="left:117.00px;top:1077.30px;font-size:32.00px;color:#34495a;word-spacing:6.783px;">Further, our implementation leverages the xFormers library to accelerate</div>
<div class="t s" style="left:117.00px;top:1123.50px;font-size:32.00px;color:#34495a;word-spacing:10.929px;">network pre-training on a single GPU while maintaining the quality of</div>
<div class="t s" style="left:117.00px;top:1169.70px;font-size:32.00px;color:#34495a;word-spacing:2.505px;">learned representations. Experimental evaluations demonstrate that Cross-</div>
<div class="t s" style="left:117.00px;top:1215.90px;font-size:32.00px;color:#34495a;word-spacing:3.255px;">Scale MAE exhibits superior performance compared to standard MAE and</div>
<div class="t s" style="left:117.00px;top:1262.10px;font-size:32.00px;color:#34495a;">other state-of-the-art remote sensing MAE methods.</div>
<div class="t s" style="left:158.50px;top:757.80px;font-size:27.43px;font-weight:bold;">Approach</div>
<div class="t s" style="left:122.00px;top:1365.53px;font-size:50.78px;font-weight:bold;">Method</div>
<div class="t s" style="left:159.00px;top:1438.50px;font-size:32.00px;font-weight:bold;">Overview</div>
<div class="t s" style="left:517.00px;top:2052.13px;font-size:19.85px;color:#34495a;">Fig.1 Cross-Scale MAE Overview</div>
<div class="t s" style="left:159.00px;top:2117.30px;font-size:32.00px;font-weight:bold;">Multi-Scale Augmentation</div>
<div class="t s" style="left:117.00px;top:2166.00px;font-size:32.00px;color:#34495a;word-spacing:2.077px;">Given an input image <i class="m">p</i> with a GSD of <i class="m">g<span style="font-size:.72em;position:relative;top:.28em">r</span></i> , the framework randomly selects</div>
<div class="t s" style="left:117.00px;top:2212.30px;font-size:32.00px;color:#34495a;word-spacing:2.874px;">two scale rates, <i class="m">r<span style="font-size:.72em;position:relative;top:.28em">h</span></i> and <i class="m">r<span style="font-size:.72em;position:relative;top:.28em">l</span></i> , from the range [0, 1], where <i class="m">r<span style="font-size:.72em;position:relative;top:.28em">h</span></i> &lt; <i class="m">r<span style="font-size:.72em;position:relative;top:.28em">l</span></i>. The image</div>
<div class="t s" style="left:117.00px;top:2258.00px;font-size:32.00px;color:#34495a;word-spacing:1.289px;"><i class="m">p</i> is then down-sampled using these scale rates to generate two images, <i class="m">p<span style="font-size:.72em;position:relative;top:.28em">h</span></i></div>
<div class="t s" style="left:117.00px;top:2304.00px;font-size:32.00px;color:#34495a;word-spacing:3.315px;">and <i class="m">p</i><span class="mr"><span style="font-size:.72em;position:relative;top:.28em">l</span></span>. In our experiments, we set <i class="m">r<span style="font-size:.72em;position:relative;top:.28em">h</span></i> <span class="mr">=</span> 1, so <i class="m">p<span style="font-size:.72em;position:relative;top:.28em">h</span></i> <span class="mr">=</span> <i class="m">p</i>. Both images, <i class="m">p<span style="font-size:.72em;position:relative;top:.28em">h</span></i> and</div>
<div class="t s" style="left:117.00px;top:2350.00px;font-size:32.00px;color:#34495a;word-spacing:1.465px;"><i class="m">p<span style="font-size:.72em;position:relative;top:.28em">l</span></i>, are subsequently resized to a fixed size of 128 px<span style="font-size:.62em;position:relative;top:-.5em">2</span>, and the GSD values</div>
<div class="t s" style="left:117.00px;top:2395.80px;font-size:32.00px;color:#34495a;word-spacing:1.623px;">of <i class="m">p<span style="font-size:.72em;position:relative;top:.28em">h</span></i> and <i class="m">p<span style="font-size:.72em;position:relative;top:.28em">l</span></i> are denoted as <i class="m">g<span style="font-size:.72em;position:relative;top:.28em">h</span></i> and <i class="m">g<span style="font-size:.72em;position:relative;top:.28em">l</span></i>, respectively.</div>
<div class="t s" style="left:1485.00px;top:334.74px;font-size:32.07px;font-weight:bold;">Cross-Scale Information Consistency in Encoder</div>
<div class="t s" style="left:1444.40px;top:375.00px;font-size:32.00px;color:#34495a;word-spacing:4.276px;">Upon feeding an input image <i class="m">p</i> to encoder <i class="m">E</i>, a high-level representation,</div>
<div class="t s" style="left:1444.40px;top:422.00px;font-size:32.00px;color:#34495a;word-spacing:4.142px;"><i class="m">E</i><span class="mr">(</span><i class="m">p</i><span class="mr">)</span>, can be obtained. Before computing the contrastive loss, a nonlinear</div>
<div class="t s" style="left:1444.40px;top:470.60px;font-size:32.00px;color:#34495a;word-spacing:1.597px;">projection head <i class="m">g<span style="font-size:0.72em;position:relative;top:0.28em">f</span></i> is needed, as shown in Fig. 1. So, after the encoder and</div>
<div class="t s" style="left:1444.40px;top:520.60px;font-size:32.00px;color:#34495a;word-spacing:8.261px;">projection head, we obtain the representation, <i class="m">Z</i> <span class="mr">=</span> <i class="m">g<span style="font-size:0.72em;position:relative;top:0.28em">f</span></i><span class="mr">(</span><i class="m">E</i><span class="mr">(</span><i class="m">p</i><span class="mr">))</span>. The cross-</div>
<div class="t s" style="left:1444.40px;top:569.50px;font-size:32.00px;color:#34495a;">scale consistency loss is thus defined as</div>
<div class="t s" style="left:1444.40px;top:781.80px;font-size:32.00px;">With</div>
<div class="t s" style="left:1497.00px;top:965.50px;font-size:32.00px;font-weight:bold;">Cross-Scale Prediction in Decoder</div>
<div class="t s" style="left:1455.00px;top:1008.00px;font-size:32.00px;color:#34495a;word-spacing:4.929px;">Given the two representations <i class="m">f<span style="font-size:0.72em;position:relative;top:0.28em">e,h</span></i> and <i class="m">f<span style="font-size:0.72em;position:relative;top:0.28em">e,l</span></i>, where <i class="m">f<span style="font-size:0.72em;position:relative;top:0.28em">e,h</span></i> <span class="mr">=</span> <i class="m">E</i><span class="mr">(</span><i class="m">p<span style="font-size:0.72em;position:relative;top:0.28em">h</span></i><span class="mr">)</span>, <i class="m">f<span style="font-size:0.72em;position:relative;top:0.28em">e,l</span></i> <span class="mr">=</span> <i class="m">E</i><span class="mr">(</span><i class="m">p<span style="font-size:0.72em;position:relative;top:0.28em">l</span></i><span class="mr">)</span>,</div>
<div class="t s" style="left:1455.00px;top:1055.90px;font-size:32.00px;color:#34495a;word-spacing:4.878px;">after the decoder attention block, we will obtain two new representations,</div>
<div class="t s" style="left:1455.00px;top:1102.30px;font-size:32.00px;color:#34495a;word-spacing:3.055px;"><i class="m">f<span style="font-size:0.72em;position:relative;top:0.28em">d,h</span></i> and <i class="m">f<span style="font-size:0.72em;position:relative;top:0.28em">d,l</span></i>, as shown in Fig. 1. Then, the cross-scale prediction is applied</div>
<div class="t s" style="left:1455.00px;top:1150.80px;font-size:32.00px;color:#34495a;">between them to get the cross-scale prediction loss, defined as:</div>
<div class="t s" style="left:1444.40px;top:1349.20px;font-size:32.00px;">With</div>
<div class="t s" style="left:1445.00px;top:1483.40px;font-size:32.00px;color:#34495a;word-spacing:4.410px;">Besides the cross-scale prediction loss, the decoder also conducts recons-</div>
<div class="t s" style="left:1445.00px;top:1522.70px;font-size:32.00px;color:#34495a;word-spacing:5.010px;">truction for both images of different scales. The reconstruction loss is thus</div>
<div class="t s" style="left:1445.00px;top:1561.00px;font-size:32.00px;color:#34495a;">defined as:</div>
<div class="t s" style="left:1444.40px;top:1761.00px;font-size:32.00px;">With</div>
<div class="t s" style="left:1444.40px;top:1828.50px;font-size:32.00px;color:#34495a;word-spacing:2.239px;">The total loss of the Cross-Scale MAE is the sum of cross-scale consistency</div>
<div class="t s" style="left:1444.40px;top:1866.80px;font-size:32.00px;color:#34495a;word-spacing:1.184px;">loss at the encoder, cross-scale prediction loss at the decoder and the recon-</div>
<div class="t s" style="left:1444.40px;top:1905.00px;font-size:32.00px;color:#34495a;">struction loss:</div>
<div class="t s" style="left:1446.00px;top:2044.28px;font-size:51.31px;font-weight:bold;">Experiments</div>
<div class="t s" style="left:1487.80px;top:2118.15px;font-size:32.18px;font-weight:bold;">Comparison with SOTA In KNN Performance</div>
<div class="t s" style="left:1615.30px;top:2183.83px;font-size:19.97px;color:#34495a;">Table.1 Average KNN accuracy with different scale ratios (12.5%, 25%, 50%, 100%)</div>
<div class="t s" style="left:1674.00px;top:2596.10px;font-size:19.89px;color:#34495a;">Fig.2 KNN classification of Cross-Scale MAE for different datasets</div>
<div class="t f" style="left:1759.84px;top:2225.30px;font-size:29.00px;">RESISC45</div>
<div class="t f" style="left:1945.60px;top:2225.30px;font-size:29.00px;">WHU-RS19</div>
<div class="t f" style="left:2146.75px;top:2225.30px;font-size:29.00px;">UC Merced</div>
<div class="t f" style="left:2342.02px;top:2225.30px;font-size:29.00px;">EuroSAT</div>
<div class="t f" style="left:1545.65px;top:2257.40px;font-size:29.00px;">SatMAE</div>
<div class="t f" style="left:1798.12px;top:2257.40px;font-size:29.00px;">66.3</div>
<div class="t f" style="left:1991.92px;top:2257.40px;font-size:29.00px;">69.9</div>
<div class="t f" style="left:2189.43px;top:2257.40px;font-size:29.00px;">69.7</div>
<div class="t f" style="left:2370.62px;top:2257.40px;font-size:29.00px;">81.9</div>
<div class="t f" style="left:1527.95px;top:2289.00px;font-size:29.00px;">Scale-MAE</div>
<div class="t f" style="left:1798.12px;top:2289.00px;font-size:29.00px;">70.0</div>
<div class="t f" style="left:1991.92px;top:2289.00px;font-size:29.00px;">79.5</div>
<div class="t f" style="left:2189.43px;top:2289.00px;font-size:29.00px;">75.0</div>
<div class="t f" style="left:2370.62px;top:2289.00px;font-size:29.00px;">86.7</div>
<div class="t f" style="left:1491.28px;top:2320.70px;font-size:29.00px;">Cross-Scale MAE</div>
<div class="t f" style="left:1798.12px;top:2320.70px;font-size:29.00px;">75.6</div>
<div class="t f" style="left:1991.92px;top:2320.70px;font-size:29.00px;">79.8</div>
<div class="t f" style="left:2189.43px;top:2320.70px;font-size:29.00px;">74.5</div>
<div class="t f" style="left:2370.62px;top:2320.70px;font-size:29.00px;">87.8</div>
<div class="t s" style="left:2808.00px;top:342.76px;font-size:32.29px;font-weight:bold;">Comparison with SOTA In Downstream Tasks</div>
<div class="t s" style="left:2998.00px;top:394.43px;font-size:19.96px;color:#34495a;">Table.2  Linear classification fine-tuning performance on fMoW-RGB</div>
<div class="t f" style="left:3328.95px;top:433.80px;font-size:29.40px;">Scale=50%</div>
<div class="t f" style="left:3577.60px;top:433.80px;font-size:29.40px;">Scale=100%</div>
<div class="t f" style="left:3120.23px;top:467.30px;font-size:29.40px;">Backbone</div>
<div class="t f" style="left:3297.11px;top:467.30px;font-size:29.40px;">Top-1</div>
<div class="t f" style="left:3425.61px;top:467.30px;font-size:29.40px;">Top-5</div>
<div class="t f" style="left:3553.11px;top:467.30px;font-size:29.40px;">Top-1</div>
<div class="t f" style="left:3681.11px;top:467.30px;font-size:29.40px;">Top-5</div>
<div class="t f" style="left:2907.75px;top:500.10px;font-size:29.40px;">GASSL</div>
<div class="t f" style="left:3121.04px;top:500.10px;font-size:29.40px;">ResNet50</div>
<div class="t f" style="left:3298.93px;top:500.10px;font-size:29.40px;">0.494</div>
<div class="t f" style="left:3427.43px;top:500.10px;font-size:29.40px;">0.540</div>
<div class="t f" style="left:3554.93px;top:500.10px;font-size:29.40px;">0.683</div>
<div class="t f" style="left:3682.93px;top:500.10px;font-size:29.40px;">0.715</div>
<div class="t f" style="left:2922.45px;top:532.50px;font-size:29.40px;">SeCo</div>
<div class="t f" style="left:3121.04px;top:532.50px;font-size:29.40px;">ResNet50</div>
<div class="t f" style="left:3298.93px;top:532.50px;font-size:29.40px;">0.508</div>
<div class="t f" style="left:3427.43px;top:532.50px;font-size:29.40px;">0.602</div>
<div class="t f" style="left:3554.93px;top:532.50px;font-size:29.40px;">0.614</div>
<div class="t f" style="left:3682.93px;top:532.50px;font-size:29.40px;">0.796</div>
<div class="t f" style="left:2902.86px;top:564.80px;font-size:29.40px;">SatMAE</div>
<div class="t f" style="left:3124.09px;top:564.80px;font-size:29.40px;">ViT-Base</div>
<div class="t f" style="left:3298.93px;top:564.80px;font-size:29.40px;">0.551</div>
<div class="t f" style="left:3427.43px;top:564.80px;font-size:29.40px;">0.776</div>
<div class="t f" style="left:3554.93px;top:564.80px;font-size:29.40px;">0.651</div>
<div class="t f" style="left:3682.93px;top:564.80px;font-size:29.40px;">0.892</div>
<div class="t f" style="left:2902.86px;top:596.80px;font-size:29.40px;">SatMAE</div>
<div class="t f" style="left:3118.66px;top:596.80px;font-size:29.40px;">ViT-Large</div>
<div class="t f" style="left:3298.93px;top:596.80px;font-size:29.40px;">0.591</div>
<div class="t f" style="left:3427.43px;top:596.80px;font-size:29.40px;">0.793</div>
<div class="t f" style="left:3554.93px;top:596.80px;font-size:29.40px;">0.678</div>
<div class="t f" style="left:3682.93px;top:596.80px;font-size:29.40px;">0.923</div>
<div class="t f" style="left:2884.93px;top:628.80px;font-size:29.40px;">Scale-MAE</div>
<div class="t f" style="left:3124.09px;top:628.80px;font-size:29.40px;">ViT-Base</div>
<div class="t f" style="left:3298.93px;top:628.80px;font-size:29.40px;">0.623</div>
<div class="t f" style="left:3427.43px;top:628.80px;font-size:29.40px;">0.850</div>
<div class="t f" style="left:3554.93px;top:628.80px;font-size:29.40px;">0.673</div>
<div class="t f" style="left:3682.93px;top:628.80px;font-size:29.40px;">0.930</div>
<div class="t f" style="left:2847.77px;top:683.50px;font-size:29.40px;">Cross-Scale MAE</div>
<div class="t f" style="left:3124.09px;top:683.50px;font-size:29.40px;">ViT-Base</div>
<div class="t f" style="left:3298.93px;top:683.50px;font-size:29.40px;font-weight:bold;">0.632</div>
<div class="t f" style="left:3427.43px;top:683.50px;font-size:29.40px;font-weight:bold;">0.914</div>
<div class="t f" style="left:3554.93px;top:683.50px;font-size:29.40px;font-weight:bold;">0.692</div>
<div class="t f" style="left:3682.93px;top:683.50px;font-size:29.40px;font-weight:bold;">0.954</div>
<div class="t s" style="left:2963.80px;top:750.97px;font-size:20.03px;color:#34495a;">Table.3  Semantic segmentation performance on Potsdam&amp;Vaihingen(mIoU)</div>
<div class="t f" style="left:3299.33px;top:790.30px;font-size:27.50px;">Potsdam</div>
<div class="t f" style="left:3588.79px;top:790.30px;font-size:27.50px;">Vaihungen</div>
<div class="t f" style="left:3077.81px;top:835.90px;font-size:27.50px;">backbone</div>
<div class="t f" style="left:3220.79px;top:835.90px;font-size:27.50px;">25%</div>
<div class="t f" style="left:3321.49px;top:835.90px;font-size:27.50px;">50%</div>
<div class="t f" style="left:3414.91px;top:835.90px;font-size:27.50px;">100%</div>
<div class="t f" style="left:3521.79px;top:835.90px;font-size:27.50px;">25%</div>
<div class="t f" style="left:3621.79px;top:835.90px;font-size:27.50px;">50%</div>
<div class="t f" style="left:3714.91px;top:835.90px;font-size:27.50px;">100%</div>
<div class="t f" style="left:2826.71px;top:880.70px;font-size:27.50px;">Supervised Baseline</div>
<div class="t f" style="left:3076.27px;top:880.70px;font-size:27.50px;">ResNet50</div>
<div class="t f" style="left:3208.19px;top:880.70px;font-size:27.50px;">0.4518</div>
<div class="t f" style="left:3308.89px;top:880.70px;font-size:27.50px;">0.5212</div>
<div class="t f" style="left:3409.70px;top:880.70px;font-size:27.50px;">0.7411</div>
<div class="t f" style="left:3509.19px;top:880.70px;font-size:27.50px;">0.4603</div>
<div class="t f" style="left:3609.19px;top:880.70px;font-size:27.50px;">0.5237</div>
<div class="t f" style="left:3709.19px;top:880.70px;font-size:27.50px;">0.7438</div>
<div class="t f" style="left:2889.69px;top:911.60px;font-size:27.50px;">SimCLR</div>
<div class="t f" style="left:3076.27px;top:911.60px;font-size:27.50px;">ResNet50</div>
<div class="t f" style="left:3208.19px;top:911.60px;font-size:27.50px;">0.5327</div>
<div class="t f" style="left:3308.89px;top:911.60px;font-size:27.50px;">0.5472</div>
<div class="t f" style="left:3409.19px;top:911.60px;font-size:27.50px;">0.7233</div>
<div class="t f" style="left:3509.19px;top:911.60px;font-size:27.50px;">0.5286</div>
<div class="t f" style="left:3609.19px;top:911.60px;font-size:27.50px;">0.5904</div>
<div class="t f" style="left:3709.19px;top:911.60px;font-size:27.50px;">0.7075</div>
<div class="t f" style="left:2901.16px;top:942.60px;font-size:27.50px;">BYOL</div>
<div class="t f" style="left:3076.27px;top:942.60px;font-size:27.50px;">ResNet50</div>
<div class="t f" style="left:3208.19px;top:942.60px;font-size:27.50px;">0.5509</div>
<div class="t f" style="left:3308.89px;top:942.60px;font-size:27.50px;">0.5715</div>
<div class="t f" style="left:3409.19px;top:942.60px;font-size:27.50px;">0.7264</div>
<div class="t f" style="left:3509.19px;top:942.60px;font-size:27.50px;">0.5618</div>
<div class="t f" style="left:3609.19px;top:942.60px;font-size:27.50px;">0.5903</div>
<div class="t f" style="left:3709.19px;top:942.60px;font-size:27.50px;">0.7298</div>
<div class="t f" style="left:2888.17px;top:973.10px;font-size:27.50px;">SimSiam</div>
<div class="t f" style="left:3076.27px;top:973.10px;font-size:27.50px;">ResNet50</div>
<div class="t f" style="left:3208.19px;top:973.10px;font-size:27.50px;">0.5439</div>
<div class="t f" style="left:3308.89px;top:973.10px;font-size:27.50px;">0.5903</div>
<div class="t f" style="left:3409.19px;top:973.10px;font-size:27.50px;">0.7188</div>
<div class="t f" style="left:3509.19px;top:973.10px;font-size:27.50px;">0.5522</div>
<div class="t f" style="left:3609.19px;top:973.10px;font-size:27.50px;">0.6005</div>
<div class="t f" style="left:3709.19px;top:973.10px;font-size:27.50px;">0.7205</div>
<div class="t f" style="left:2908.80px;top:1003.30px;font-size:27.50px;">SeCo</div>
<div class="t f" style="left:3076.27px;top:1003.30px;font-size:27.50px;">ResNet50</div>
<div class="t f" style="left:3208.19px;top:1003.30px;font-size:27.50px;">0.5571</div>
<div class="t f" style="left:3308.89px;top:1003.30px;font-size:27.50px;">0.5935</div>
<div class="t f" style="left:3409.19px;top:1003.30px;font-size:27.50px;">0.7298</div>
<div class="t f" style="left:3509.19px;top:1003.30px;font-size:27.50px;">0.5741</div>
<div class="t f" style="left:3609.19px;top:1003.30px;font-size:27.50px;">0.6213</div>
<div class="t f" style="left:3709.19px;top:1003.30px;font-size:27.50px;">0.7250</div>
<div class="t f" style="left:2888.18px;top:1034.00px;font-size:27.50px;">mCL-LC</div>
<div class="t f" style="left:3076.27px;top:1034.00px;font-size:27.50px;">ResNet50</div>
<div class="t f" style="left:3208.19px;top:1034.00px;font-size:27.50px;">0.5589</div>
<div class="t f" style="left:3308.89px;top:1034.00px;font-size:27.50px;">0.5973</div>
<div class="t f" style="left:3409.19px;top:1034.00px;font-size:27.50px;">0.7316</div>
<div class="t f" style="left:3509.19px;top:1034.00px;font-size:27.50px;">0.5795</div>
<div class="t f" style="left:3609.19px;top:1034.00px;font-size:27.50px;">0.6277</div>
<div class="t f" style="left:3709.19px;top:1034.00px;font-size:27.50px;">0.7262</div>
<div class="t f" style="left:2890.47px;top:1064.30px;font-size:27.50px;">SatMAE</div>
<div class="t f" style="left:3079.12px;top:1064.30px;font-size:27.50px;">ViT-Base</div>
<div class="t f" style="left:3208.19px;top:1064.30px;font-size:27.50px;">0.6325</div>
<div class="t f" style="left:3308.89px;top:1064.30px;font-size:27.50px;">0.6879</div>
<div class="t f" style="left:3409.19px;top:1064.30px;font-size:27.50px;">0.7355</div>
<div class="t f" style="left:3509.19px;top:1064.30px;font-size:27.50px;">0.6239</div>
<div class="t f" style="left:3609.19px;top:1064.30px;font-size:27.50px;">0.6980</div>
<div class="t f" style="left:3709.19px;top:1064.30px;font-size:27.50px;">0.7364</div>
<div class="t f" style="left:2873.69px;top:1095.00px;font-size:27.50px;">Scale-MAE</div>
<div class="t f" style="left:3079.12px;top:1095.00px;font-size:27.50px;">ViT-Base</div>
<div class="t f" style="left:3208.19px;top:1095.00px;font-size:27.50px;">0.6853</div>
<div class="t f" style="left:3308.89px;top:1095.00px;font-size:27.50px;">0.7333</div>
<div class="t f" style="left:3409.19px;top:1095.00px;font-size:27.50px;">0.7507</div>
<div class="t f" style="left:3509.19px;top:1095.00px;font-size:27.50px;">0.6910</div>
<div class="t f" style="left:3609.19px;top:1095.00px;font-size:27.50px;">0.7280</div>
<div class="t f" style="left:3709.19px;top:1095.00px;font-size:27.50px;">0.7512</div>
<div class="t f" style="left:2838.92px;top:1146.30px;font-size:27.50px;">Cross-Scale MAE</div>
<div class="t f" style="left:3079.12px;top:1146.30px;font-size:27.50px;">ViT-Base</div>
<div class="t f" style="left:3208.19px;top:1146.30px;font-size:27.50px;font-weight:bold;">0.7082</div>
<div class="t f" style="left:3308.89px;top:1146.30px;font-size:27.50px;">0.7225</div>
<div class="t f" style="left:3409.19px;top:1146.30px;font-size:27.50px;font-weight:bold;">0.7617</div>
<div class="t f" style="left:3509.19px;top:1146.30px;font-size:27.50px;font-weight:bold;">0.7163</div>
<div class="t f" style="left:3609.19px;top:1146.30px;font-size:27.50px;font-weight:bold;">0.7354</div>
<div class="t f" style="left:3709.19px;top:1146.30px;font-size:27.50px;font-weight:bold;">0.7603</div>
<div class="t s" style="left:2808.00px;top:1209.79px;font-size:31.89px;font-weight:bold;">Ablation Study</div>
<div class="t s" style="left:3047.00px;top:1256.32px;font-size:19.98px;color:#34495a;">Table.4  Ablation study of the effect of each of the three losses</div>
<div class="t f" style="left:2896.69px;top:1288.00px;font-size:28.50px;">multi-scale</div>
<div class="t f" style="left:3071.98px;top:1288.00px;font-size:28.50px;">Cross-Consis</div>
<div class="t f" style="left:3272.66px;top:1288.00px;font-size:28.50px;">Cross-Pred</div>
<div class="t f" style="left:3448.44px;top:1288.00px;font-size:28.50px;">KNN 50%</div>
<div class="t f" style="left:3618.01px;top:1288.00px;font-size:28.50px;">KNN 100%</div>
<div class="t f" style="left:3484.06px;top:1319.40px;font-size:28.50px;">52.1</div>
<div class="t f" style="left:3660.76px;top:1319.40px;font-size:28.50px;">58.9</div>
<div class="t f" style="left:3484.06px;top:1350.80px;font-size:28.50px;">68.3</div>
<div class="t f" style="left:3660.76px;top:1350.80px;font-size:28.50px;">69.2</div>
<div class="t f" style="left:3484.06px;top:1382.00px;font-size:28.50px;">72.4</div>
<div class="t f" style="left:3660.76px;top:1382.00px;font-size:28.50px;">74.4</div>
<div class="t f" style="left:3484.06px;top:1413.70px;font-size:28.50px;">74.9</div>
<div class="t f" style="left:3660.76px;top:1413.70px;font-size:28.50px;">76.5</div>
<div class="t f" style="left:3481.26px;top:1444.60px;font-size:28.50px;font-weight:bold;letter-spacing:1.4px;">78.7</div>
<div class="t f" style="left:3657.96px;top:1444.60px;font-size:28.50px;font-weight:bold;letter-spacing:1.4px;">79.3</div>
<div class="t s" style="left:3067.60px;top:1508.70px;font-size:20.00px;color:#34495a;">Table.5  The effect of negative samples (NS) in Cross-MAE</div>
<div class="t f" style="left:2952.79px;top:1537.00px;font-size:28.50px;">NS in Encoder</div>
<div class="t f" style="left:3169.61px;top:1537.00px;font-size:28.50px;">NS in Decoder</div>
<div class="t f" style="left:3387.44px;top:1537.00px;font-size:28.50px;">KNN 50%</div>
<div class="t f" style="left:3558.01px;top:1537.00px;font-size:28.50px;">KNN 100%</div>
<div class="t f" style="left:3423.06px;top:1568.00px;font-size:28.50px;">75.9</div>
<div class="t f" style="left:3600.76px;top:1568.00px;font-size:28.50px;">77.9</div>
<div class="t f" style="left:3423.06px;top:1599.40px;font-size:28.50px;">76.8</div>
<div class="t f" style="left:3600.76px;top:1599.40px;font-size:28.50px;">77.7</div>
<div class="t f" style="left:3423.06px;top:1630.80px;font-size:28.50px;">75.1</div>
<div class="t f" style="left:3600.76px;top:1630.80px;font-size:28.50px;">77.1</div>
<div class="t f" style="left:3420.26px;top:1662.20px;font-size:28.50px;font-weight:bold;letter-spacing:1.4px;">78.7</div>
<div class="t f" style="left:3597.96px;top:1662.20px;font-size:28.50px;font-weight:bold;letter-spacing:1.4px;">79.3</div>
<div class="t s" style="left:3043.30px;top:1723.48px;font-size:20.02px;color:#34495a;">Table.6  The effect of negative samples in the pure CL framework</div>
<div class="t f" style="left:2954.69px;top:1751.80px;font-size:28.50px;">NS in Encoder</div>
<div class="t f" style="left:3171.01px;top:1751.80px;font-size:28.50px;">NS in Decoder</div>
<div class="t f" style="left:3388.94px;top:1751.80px;font-size:28.50px;">KNN 50%</div>
<div class="t f" style="left:3559.01px;top:1751.80px;font-size:28.50px;">KNN 100%</div>
<div class="t f" style="left:3424.56px;top:1782.70px;font-size:28.50px;">57.2</div>
<div class="t f" style="left:3601.76px;top:1782.70px;font-size:28.50px;">58.7</div>
<div class="t f" style="left:3424.56px;top:1814.00px;font-size:28.50px;">57.3</div>
<div class="t f" style="left:3601.76px;top:1814.00px;font-size:28.50px;">59.5</div>
<div class="t f" style="left:3424.56px;top:1845.60px;font-size:28.50px;">57.1</div>
<div class="t f" style="left:3601.76px;top:1845.60px;font-size:28.50px;">58.2</div>
<div class="t f" style="left:3421.76px;top:1877.00px;font-size:28.50px;font-weight:bold;letter-spacing:1.4px;">58.3</div>
<div class="t f" style="left:3598.96px;top:1877.00px;font-size:28.50px;font-weight:bold;letter-spacing:1.4px;">60.7</div>
<div class="t f" style="left:3059.62px;top:2282.00px;font-size:20.50px;">(a)</div>
<div class="t f" style="left:3555.65px;top:2282.00px;font-size:20.50px;">(b)</div>
<div class="t s" style="left:2985.00px;top:2310.69px;font-size:19.89px;color:#34495a;">Fig.3 The comparison of multi-scale augmentation and GSD position code.</div>
<div class="t s" style="left:2766.00px;top:2353.27px;font-size:32.03px;font-weight:bold;">Acknowledgement</div>
<div class="t s" style="left:2766.00px;top:2394.00px;font-size:21.20px;word-spacing:2.583px;">This research is based upon work supported in part by the Office of the Director of National</div>
<div class="t s" style="left:2766.00px;top:2425.00px;font-size:21.20px;word-spacing:7.086px;">Intelligence (ODNI), Intelligence Advanced Research Projects Activity (IARPA), via 2021-</div>
<div class="t s" style="left:2766.00px;top:2456.20px;font-size:21.20px;word-spacing:5.754px;">20111000006. The views and conclusions contained herein are those of the authors and</div>
<div class="t s" style="left:2766.00px;top:2486.80px;font-size:21.20px;word-spacing:2.067px;">should not be interpreted as necessarily representing the official policies, either expressed or</div>
<div class="t s" style="left:2766.00px;top:2517.40px;font-size:21.20px;word-spacing:4.756px;">implied, of ODNI, IARPA, or the U.S. Government. The U.S. Government is authorized to</div>
<div class="t s" style="left:2766.00px;top:2548.00px;font-size:21.20px;word-spacing:5.067px;">reproduce and distribute reprints for governmental purposes notwithstanding any copyright</div>
<div class="t s" style="left:2766.00px;top:2579.00px;font-size:21.20px;">annotation therein.</div>
<div class="t s" style="left:3422.80px;top:161.90px;font-size:38.80px;color:#33363b;letter-spacing:0.458px;-webkit-text-stroke:0.4px #33363b;">NEURAL INFORMATION</div>
<div class="t s" style="left:3422.80px;top:203.50px;font-size:38.80px;color:#33363b;letter-spacing:-0.688px;-webkit-text-stroke:0.4px #33363b;">PROCESSING SYSTEMS</div>
<div class="t f" style="left:136.30px;top:2517.90px;font-size:29.50px;color:#58595b;letter-spacing:3.937px;-webkit-text-stroke:0.5px #58595b;">THE UNIVERSITY OF</div>
<div class="t f" style="left:135.40px;top:2539.60px;font-size:66.00px;color:#58595b;letter-spacing:-2.391px;-webkit-text-stroke:0.7px #58595b;">TENNESSEE</div>
<div class="t f" style="left:137.50px;top:2601.90px;font-size:28.00px;color:#58595b;letter-spacing:3.819px;-webkit-text-stroke:0.5px #58595b;">KNOXVILLE</div>
</div></body></html>
